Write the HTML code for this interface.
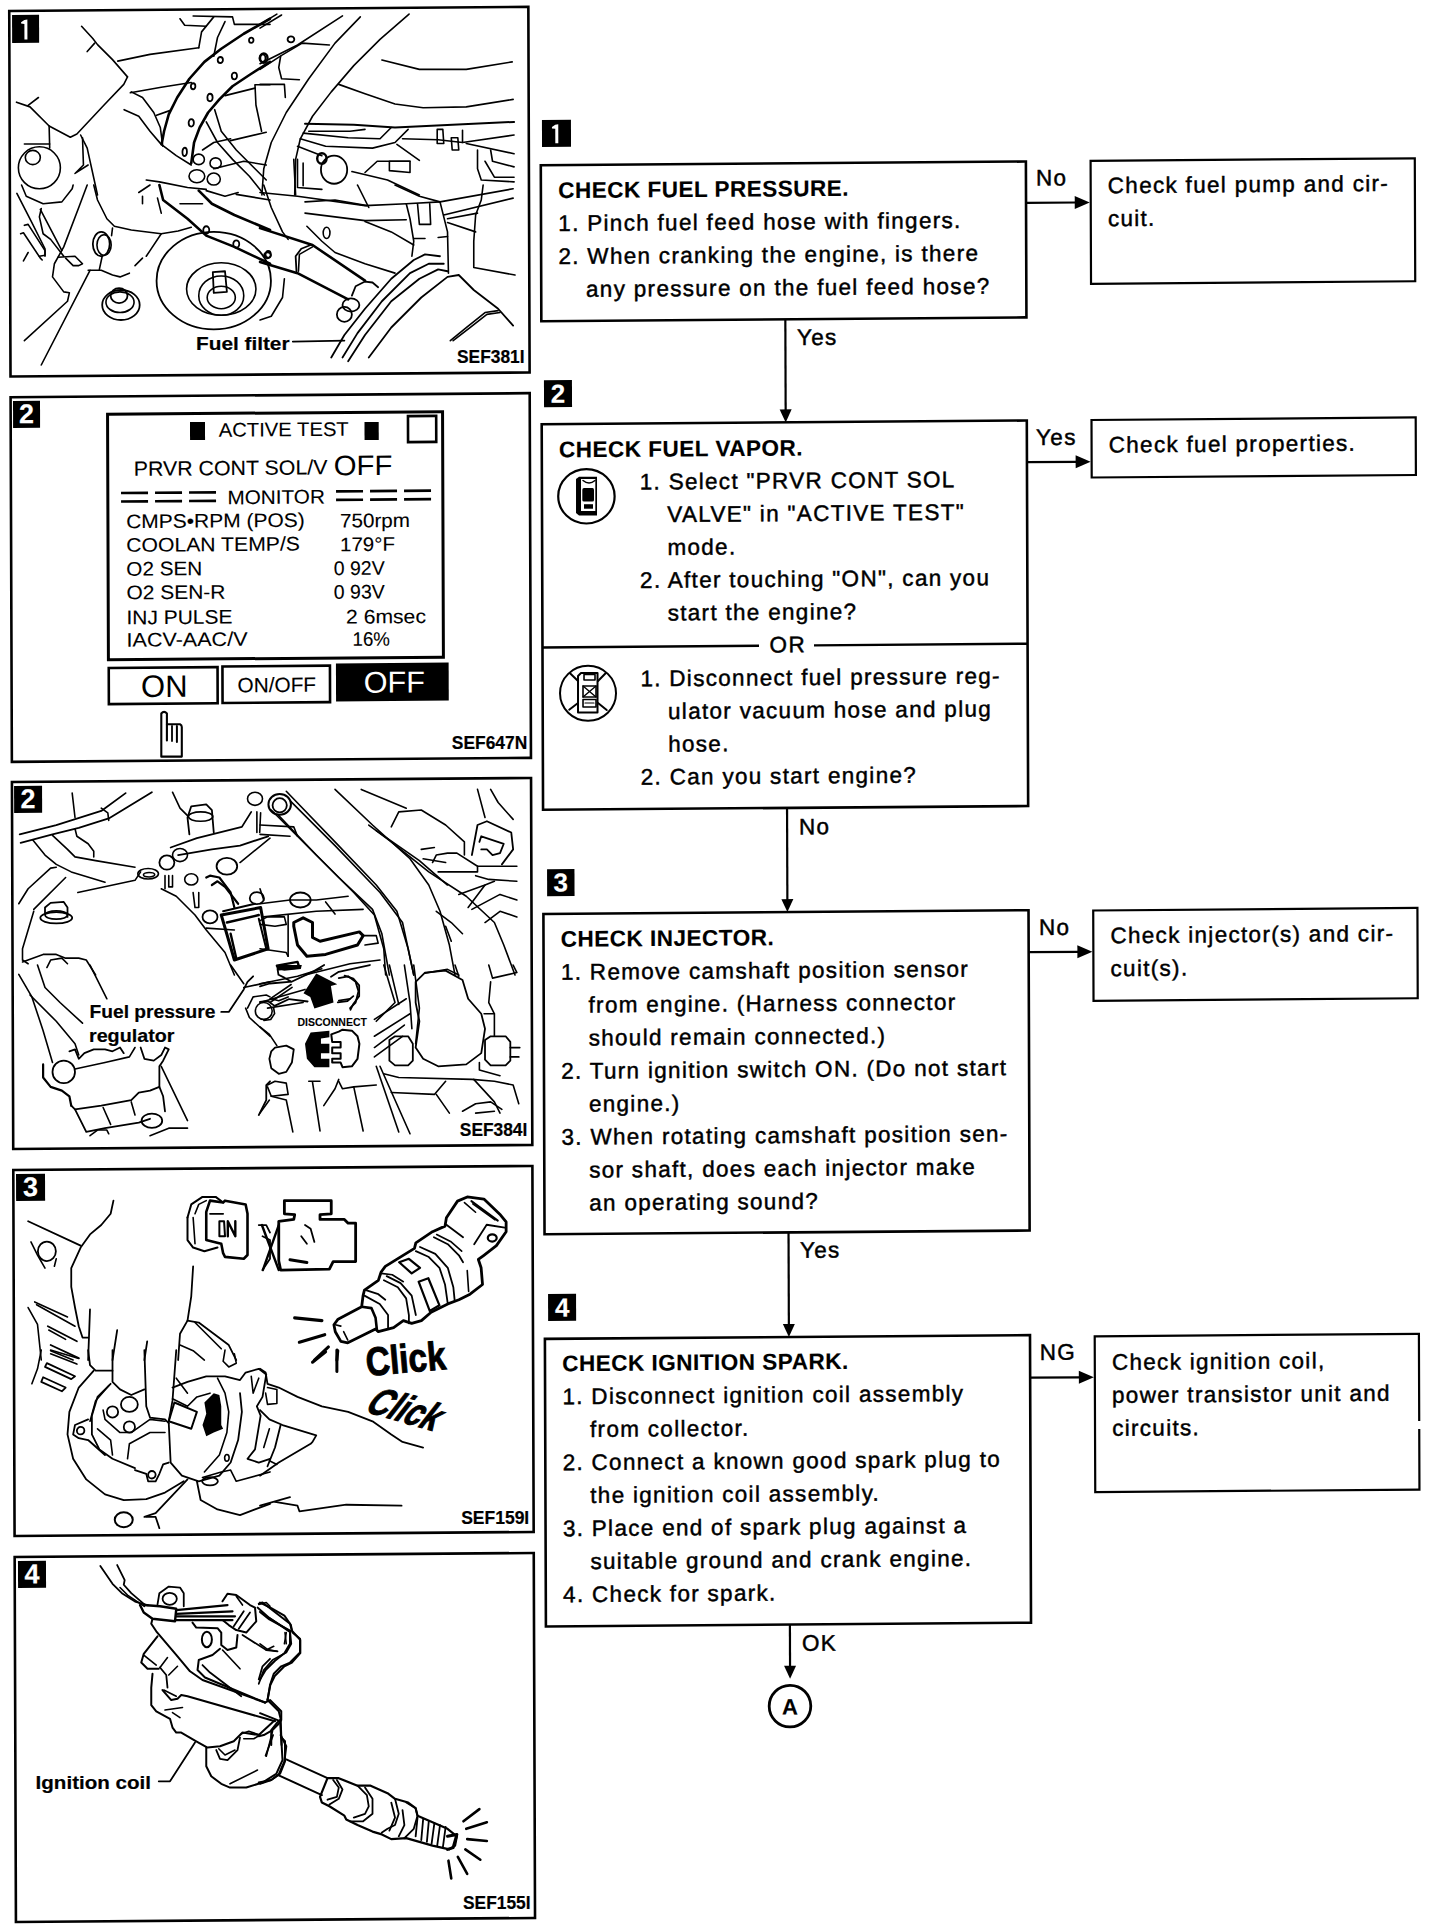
<!DOCTYPE html>
<html><head><meta charset="utf-8"><title>Fuel system check</title>
<style>
html,body{margin:0;padding:0;background:#fff;}
body{width:1440px;height:1930px;overflow:hidden;position:relative;}
#pg{position:absolute;left:0;top:0;width:1440px;height:1930px;transform-origin:0 0;transform:matrix(1,-0.0078,0.0035,1,0,0);}
svg{position:absolute;left:0;top:0;}
text{font-family:"Liberation Sans", sans-serif;stroke:none;}
</style></head><body>
<div id="pg">
<svg width="1440" height="1930" viewBox="0 0 1440 1930" stroke="#000" fill="none" stroke-linecap="butt">
<rect x="540.2" y="169.5" width="485.1" height="155.9" stroke-width="2.6" fill="none"/>
<rect x="1090.0" y="169.3" width="324.2" height="123.0" stroke-width="2.2" fill="none"/>
<line x1="1025.3" y1="210.9" x2="1076.0" y2="210.9" stroke-width="2.2"/>
<polygon points="1074.0,204.4 1089.0,210.9 1074.0,217.4" fill="#000" stroke="none"/>
<text x="1035.2" y="193.6" font-size="22.5" letter-spacing="1.3" font-weight="normal" fill="#000" style="stroke:#000;stroke-width:0.45px"  >No</text>
<rect x="541.5" y="124.2" width="29.0" height="27.0" stroke="none" fill="#000"/>
<path d="M554.8,129.2 L557.8,128.7 L557.8,147.7 L554.8,147.7 L554.8,133.2 L551.5,132.7 L551.5,131.4 Z" fill="#fff" stroke="none"/>
<text x="557.5" y="202.4" font-size="22.5" letter-spacing="0.5" font-weight="bold" fill="#000" style="stroke:#000;stroke-width:0.15px"  >CHECK FUEL PRESSURE.</text>
<text x="557.5" y="235.4" font-size="22.5" letter-spacing="1.3" font-weight="normal" fill="#000" style="stroke:#000;stroke-width:0.45px"  >1. Pinch fuel feed hose with fingers.</text>
<text x="557.5" y="268.4" font-size="22.5" letter-spacing="1.3" font-weight="normal" fill="#000" style="stroke:#000;stroke-width:0.45px"  >2. When cranking the engine, is there</text>
<text x="585.0" y="301.4" font-size="22.5" letter-spacing="1.3" font-weight="normal" fill="#000" style="stroke:#000;stroke-width:0.45px"  >any pressure on the fuel feed hose?</text>
<text x="1107.1" y="201.8" font-size="22.5" letter-spacing="1.3" font-weight="normal" fill="#000" style="stroke:#000;stroke-width:0.45px"  >Check fuel pump and cir-</text>
<text x="1107.1" y="234.8" font-size="22.5" letter-spacing="1.3" font-weight="normal" fill="#000" style="stroke:#000;stroke-width:0.45px"  >cuit.</text>
<line x1="784.2" y1="325.4" x2="784.2" y2="417.5" stroke-width="2.2"/>
<polygon points="778.2,415.5 784.2,428.5 790.2,415.5" fill="#000" stroke="none"/>
<text x="795.8" y="351.2" font-size="22.5" letter-spacing="1.3" font-weight="normal" fill="#000" style="stroke:#000;stroke-width:0.45px"  >Yes</text>
<rect x="542.6" y="384.5" width="28.0" height="27.0" stroke="none" fill="#000"/>
<text x="556.6" y="407.0" font-size="26" letter-spacing="0" font-weight="bold" fill="#fff" style="stroke:#fff;stroke-width:0.15px"  text-anchor="middle">2</text>
<rect x="540.2" y="428.5" width="485.1" height="385.5" stroke-width="2.6" fill="none"/>
<rect x="1090.0" y="428.5" width="324.2" height="57.5" stroke-width="2.2" fill="none"/>
<line x1="1025.3" y1="470.2" x2="1076.0" y2="470.2" stroke-width="2.2"/>
<polygon points="1074.0,463.7 1089.0,470.2 1074.0,476.7" fill="#000" stroke="none"/>
<text x="1034.5" y="453.1" font-size="22.5" letter-spacing="1.3" font-weight="normal" fill="#000" style="stroke:#000;stroke-width:0.45px"  >Yes</text>
<text x="1107.1" y="461.2" font-size="22.5" letter-spacing="1.3" font-weight="normal" fill="#000" style="stroke:#000;stroke-width:0.45px"  >Check fuel properties.</text>
<text x="557.5" y="461.7" font-size="22.5" letter-spacing="0.5" font-weight="bold" fill="#000" style="stroke:#000;stroke-width:0.15px"  >CHECK FUEL VAPOR.</text>
<text x="638.0" y="494.5" font-size="22.5" letter-spacing="1.3" font-weight="normal" fill="#000" style="stroke:#000;stroke-width:0.45px"  >1. Select "PRVR CONT SOL</text>
<text x="665.5" y="527.3" font-size="22.5" letter-spacing="1.3" font-weight="normal" fill="#000" style="stroke:#000;stroke-width:0.45px"  >VALVE" in "ACTIVE TEST"</text>
<text x="665.5" y="560.1" font-size="22.5" letter-spacing="1.3" font-weight="normal" fill="#000" style="stroke:#000;stroke-width:0.45px"  >mode.</text>
<text x="638.0" y="592.9" font-size="22.5" letter-spacing="1.3" font-weight="normal" fill="#000" style="stroke:#000;stroke-width:0.45px"  >2. After touching "ON", can you</text>
<text x="665.5" y="625.7" font-size="22.5" letter-spacing="1.3" font-weight="normal" fill="#000" style="stroke:#000;stroke-width:0.45px"  >start the engine?</text>
<line x1="540.2" y1="651.7" x2="756.7" y2="651.7" stroke-width="2.4"/>
<line x1="811.7" y1="651.7" x2="1025.3" y2="651.7" stroke-width="2.4"/>
<text x="767.3" y="658.4" font-size="22.5" letter-spacing="1.3" font-weight="normal" fill="#000" style="stroke:#000;stroke-width:0.45px"  >OR</text>
<text x="638.0" y="691.3" font-size="22.5" letter-spacing="1.3" font-weight="normal" fill="#000" style="stroke:#000;stroke-width:0.45px"  >1. Disconnect fuel pressure reg-</text>
<text x="665.5" y="724.1" font-size="22.5" letter-spacing="1.3" font-weight="normal" fill="#000" style="stroke:#000;stroke-width:0.45px"  >ulator vacuum hose and plug</text>
<text x="665.5" y="756.9" font-size="22.5" letter-spacing="1.3" font-weight="normal" fill="#000" style="stroke:#000;stroke-width:0.45px"  >hose.</text>
<text x="638.0" y="789.7" font-size="22.5" letter-spacing="1.3" font-weight="normal" fill="#000" style="stroke:#000;stroke-width:0.45px"  >2. Can you start engine?</text>
<line x1="784.2" y1="814.0" x2="784.2" y2="907.2" stroke-width="2.2"/>
<polygon points="778.2,905.2 784.2,918.2 790.2,905.2" fill="#000" stroke="none"/>
<text x="796.1" y="840.6" font-size="22.5" letter-spacing="1.3" font-weight="normal" fill="#000" style="stroke:#000;stroke-width:0.45px"  >No</text>
<rect x="544.0" y="873.4" width="27.4" height="27.0" stroke="none" fill="#000"/>
<text x="557.7" y="895.9" font-size="26" letter-spacing="0" font-weight="bold" fill="#fff" style="stroke:#fff;stroke-width:0.15px"  text-anchor="middle">3</text>
<rect x="540.2" y="918.2" width="485.1" height="320.3" stroke-width="2.6" fill="none"/>
<rect x="1090.0" y="919.0" width="324.2" height="90.3" stroke-width="2.2" fill="none"/>
<line x1="1025.3" y1="960.2" x2="1076.0" y2="960.2" stroke-width="2.2"/>
<polygon points="1074.0,953.7 1089.0,960.2 1074.0,966.7" fill="#000" stroke="none"/>
<text x="1035.7" y="943.1" font-size="22.5" letter-spacing="1.3" font-weight="normal" fill="#000" style="stroke:#000;stroke-width:0.45px"  >No</text>
<text x="1107.1" y="951.8" font-size="22.5" letter-spacing="1.3" font-weight="normal" fill="#000" style="stroke:#000;stroke-width:0.45px"  >Check injector(s) and cir-</text>
<text x="1107.1" y="984.8" font-size="22.5" letter-spacing="1.3" font-weight="normal" fill="#000" style="stroke:#000;stroke-width:0.45px"  >cuit(s).</text>
<text x="557.5" y="951.1" font-size="22.5" letter-spacing="0.5" font-weight="bold" fill="#000" style="stroke:#000;stroke-width:0.15px"  >CHECK INJECTOR.</text>
<text x="557.5" y="984.1" font-size="22.5" letter-spacing="1.3" font-weight="normal" fill="#000" style="stroke:#000;stroke-width:0.45px"  >1. Remove camshaft position sensor</text>
<text x="585.0" y="1017.1" font-size="22.5" letter-spacing="1.3" font-weight="normal" fill="#000" style="stroke:#000;stroke-width:0.45px"  >from engine. (Harness connector</text>
<text x="585.0" y="1050.1" font-size="22.5" letter-spacing="1.3" font-weight="normal" fill="#000" style="stroke:#000;stroke-width:0.45px"  >should remain connected.)</text>
<text x="557.5" y="1083.1" font-size="22.5" letter-spacing="1.3" font-weight="normal" fill="#000" style="stroke:#000;stroke-width:0.45px"  >2. Turn ignition switch ON. (Do not start</text>
<text x="585.0" y="1116.1" font-size="22.5" letter-spacing="1.3" font-weight="normal" fill="#000" style="stroke:#000;stroke-width:0.45px"  >engine.)</text>
<text x="557.5" y="1149.1" font-size="22.5" letter-spacing="1.3" font-weight="normal" fill="#000" style="stroke:#000;stroke-width:0.45px"  >3. When rotating camshaft position sen-</text>
<text x="585.0" y="1182.1" font-size="22.5" letter-spacing="1.3" font-weight="normal" fill="#000" style="stroke:#000;stroke-width:0.45px"  >sor shaft, does each injector make</text>
<text x="585.0" y="1215.1" font-size="22.5" letter-spacing="1.3" font-weight="normal" fill="#000" style="stroke:#000;stroke-width:0.45px"  >an operating sound?</text>
<line x1="784.2" y1="1238.5" x2="784.2" y2="1332.1" stroke-width="2.2"/>
<polygon points="778.2,1330.1 784.2,1343.1 790.2,1330.1" fill="#000" stroke="none"/>
<text x="795.6" y="1264.0" font-size="22.5" letter-spacing="1.3" font-weight="normal" fill="#000" style="stroke:#000;stroke-width:0.45px"  >Yes</text>
<rect x="543.5" y="1298.3" width="28.0" height="27.0" stroke="none" fill="#000"/>
<text x="557.5" y="1320.8" font-size="26" letter-spacing="0" font-weight="bold" fill="#fff" style="stroke:#fff;stroke-width:0.15px"  text-anchor="middle">4</text>
<rect x="540.2" y="1343.1" width="485.1" height="287.6" stroke-width="2.6" fill="none"/>
<rect x="1090.0" y="1344.8" width="324.2" height="155.8" stroke-width="2.2" fill="none"/>
<rect x="1411.2" y="1432.0" width="6.0" height="8.0" stroke="none" fill="#fff"/>
<line x1="1025.3" y1="1385.7" x2="1076.0" y2="1385.7" stroke-width="2.2"/>
<polygon points="1074.0,1379.2 1089.0,1385.7 1074.0,1392.2" fill="#000" stroke="none"/>
<text x="1035.0" y="1368.1" font-size="22.5" letter-spacing="1.3" font-weight="normal" fill="#000" style="stroke:#000;stroke-width:0.45px"  >NG</text>
<text x="1107.1" y="1378.5" font-size="22.5" letter-spacing="1.3" font-weight="normal" fill="#000" style="stroke:#000;stroke-width:0.45px"  >Check ignition coil,</text>
<text x="1107.1" y="1411.5" font-size="22.5" letter-spacing="1.3" font-weight="normal" fill="#000" style="stroke:#000;stroke-width:0.45px"  >power transistor unit and</text>
<text x="1107.1" y="1444.5" font-size="22.5" letter-spacing="1.3" font-weight="normal" fill="#000" style="stroke:#000;stroke-width:0.45px"  >circuits.</text>
<text x="557.5" y="1375.5" font-size="22.5" letter-spacing="0.5" font-weight="bold" fill="#000" style="stroke:#000;stroke-width:0.15px"  >CHECK IGNITION SPARK.</text>
<text x="557.5" y="1408.5" font-size="22.5" letter-spacing="1.3" font-weight="normal" fill="#000" style="stroke:#000;stroke-width:0.45px"  >1. Disconnect ignition coil assembly</text>
<text x="585.0" y="1441.5" font-size="22.5" letter-spacing="1.3" font-weight="normal" fill="#000" style="stroke:#000;stroke-width:0.45px"  >from collector.</text>
<text x="557.5" y="1474.5" font-size="22.5" letter-spacing="1.3" font-weight="normal" fill="#000" style="stroke:#000;stroke-width:0.45px"  >2. Connect a known good spark plug to</text>
<text x="585.0" y="1507.5" font-size="22.5" letter-spacing="1.3" font-weight="normal" fill="#000" style="stroke:#000;stroke-width:0.45px"  >the ignition coil assembly.</text>
<text x="557.5" y="1540.5" font-size="22.5" letter-spacing="1.3" font-weight="normal" fill="#000" style="stroke:#000;stroke-width:0.45px"  >3. Place end of spark plug against a</text>
<text x="585.0" y="1573.5" font-size="22.5" letter-spacing="1.3" font-weight="normal" fill="#000" style="stroke:#000;stroke-width:0.45px"  >suitable ground and crank engine.</text>
<text x="557.5" y="1606.5" font-size="22.5" letter-spacing="1.3" font-weight="normal" fill="#000" style="stroke:#000;stroke-width:0.45px"  >4. Check for spark.</text>
<line x1="784.2" y1="1630.7" x2="784.2" y2="1673.9" stroke-width="2.2"/>
<polygon points="778.2,1671.9 784.2,1684.9 790.2,1671.9" fill="#000" stroke="none"/>
<text x="796.2" y="1657.0" font-size="22.5" letter-spacing="1.3" font-weight="normal" fill="#000" style="stroke:#000;stroke-width:0.45px"  >OK</text>
<circle cx="784" cy="1712.2" r="20.8" stroke-width="2.8" fill="none"/>
<text x="784.0" y="1720.5" font-size="22" letter-spacing="0" font-weight="bold" fill="#000" style="stroke:#000;stroke-width:0.15px"  text-anchor="middle">A</text>
<rect x="9.2" y="11.0" width="519.1" height="365.6" stroke-width="2.6" fill="none"/>
<rect x="9.2" y="397.3" width="519.1" height="364.7" stroke-width="2.6" fill="none"/>
<rect x="9.2" y="782.1" width="519.1" height="367.0" stroke-width="2.6" fill="none"/>
<rect x="9.2" y="1170.1" width="519.1" height="366.0" stroke-width="2.6" fill="none"/>
<rect x="9.2" y="1557.1" width="519.1" height="365.0" stroke-width="2.6" fill="none"/>
<rect x="12.0" y="15.1" width="27.0" height="28.0" stroke="none" fill="#000"/>
<path d="M24.3,20.1 L27.3,19.6 L27.3,39.6 L24.3,39.6 L24.3,24.1 L21.0,23.6 L21.0,22.3 Z" fill="#fff" stroke="none"/>
<rect x="11.6" y="401.0" width="27.0" height="27.0" stroke="none" fill="#000"/>
<text x="25.1" y="423.5" font-size="27" letter-spacing="0" font-weight="bold" fill="#fff" style="stroke:#fff;stroke-width:0.15px"  text-anchor="middle">2</text>
<rect x="11.3" y="786.1" width="28.0" height="26.9" stroke="none" fill="#000"/>
<text x="25.3" y="808.5" font-size="27" letter-spacing="0" font-weight="bold" fill="#fff" style="stroke:#fff;stroke-width:0.15px"  text-anchor="middle">2</text>
<rect x="11.9" y="1174.0" width="29.0" height="27.0" stroke="none" fill="#000"/>
<text x="26.4" y="1196.5" font-size="27" letter-spacing="0" font-weight="bold" fill="#fff" style="stroke:#fff;stroke-width:0.15px"  text-anchor="middle">3</text>
<rect x="12.5" y="1561.0" width="28.0" height="27.0" stroke="none" fill="#000"/>
<text x="26.5" y="1583.5" font-size="27" letter-spacing="0" font-weight="bold" fill="#fff" style="stroke:#fff;stroke-width:0.15px"  text-anchor="middle">4</text>
<rect x="106.1" y="415.1" width="335.0" height="245.5" stroke-width="3.0" fill="none"/>
<rect x="188.5" y="423.5" width="15.0" height="18.0" stroke="none" fill="#000"/>
<rect x="363.0" y="424.9" width="14.2" height="18.0" stroke="none" fill="#000"/>
<rect x="406.5" y="419.3" width="28.2" height="26.0" stroke-width="2.6" fill="none"/>
<text x="217.2" y="438.4" font-size="19.5" letter-spacing="0" font-weight="normal" fill="#000" style="stroke:#000;stroke-width:0.1px" textLength="130" lengthAdjust="spacingAndGlyphs" >ACTIVE TEST</text>
<text x="132.1" y="476.8" font-size="20.5" letter-spacing="0" font-weight="normal" fill="#000" style="stroke:#000;stroke-width:0.1px" textLength="193.7" lengthAdjust="spacingAndGlyphs" >PRVR CONT SOL/V</text>
<text x="332.1" y="477.8" font-size="28" letter-spacing="0" font-weight="normal" fill="#000"  textLength="58.7" lengthAdjust="spacingAndGlyphs" >OFF</text>
<text x="225.7" y="505.9" font-size="19.5" letter-spacing="0" font-weight="normal" fill="#000" style="stroke:#000;stroke-width:0.1px" textLength="97.5" lengthAdjust="spacingAndGlyphs" >MONITOR</text>
<line x1="119.3" y1="494.0" x2="146.3" y2="494.0" stroke-width="2.6"/>
<line x1="119.3" y1="502.5" x2="146.3" y2="502.5" stroke-width="2.6"/>
<line x1="153.3" y1="494.0" x2="180.3" y2="494.0" stroke-width="2.6"/>
<line x1="153.3" y1="502.5" x2="180.3" y2="502.5" stroke-width="2.6"/>
<line x1="187.3" y1="494.0" x2="214.3" y2="494.0" stroke-width="2.6"/>
<line x1="187.3" y1="502.5" x2="214.3" y2="502.5" stroke-width="2.6"/>
<line x1="334.3" y1="494.0" x2="361.3" y2="494.0" stroke-width="2.6"/>
<line x1="334.3" y1="502.5" x2="361.3" y2="502.5" stroke-width="2.6"/>
<line x1="368.3" y1="494.0" x2="395.3" y2="494.0" stroke-width="2.6"/>
<line x1="368.3" y1="502.5" x2="395.3" y2="502.5" stroke-width="2.6"/>
<line x1="402.3" y1="494.0" x2="429.3" y2="494.0" stroke-width="2.6"/>
<line x1="402.3" y1="502.5" x2="429.3" y2="502.5" stroke-width="2.6"/>
<text x="124.3" y="529.1" font-size="19.5" letter-spacing="0" font-weight="normal" fill="#000" style="stroke:#000;stroke-width:0.1px" textLength="178.7" lengthAdjust="spacingAndGlyphs" >CMPS•RPM (POS)</text>
<text x="338.1" y="530.1" font-size="19.5" letter-spacing="0" font-weight="normal" fill="#000" style="stroke:#000;stroke-width:0.1px" textLength="70" lengthAdjust="spacingAndGlyphs" >750rpm</text>
<text x="124.3" y="552.8" font-size="19.5" letter-spacing="0" font-weight="normal" fill="#000" style="stroke:#000;stroke-width:0.1px" textLength="173.7" lengthAdjust="spacingAndGlyphs" >COOLAN TEMP/S</text>
<text x="338.1" y="553.8" font-size="19.5" letter-spacing="0" font-weight="normal" fill="#000" style="stroke:#000;stroke-width:0.1px" textLength="55" lengthAdjust="spacingAndGlyphs" >179°F</text>
<text x="124.3" y="576.6" font-size="19.5" letter-spacing="0" font-weight="normal" fill="#000" style="stroke:#000;stroke-width:0.1px" textLength="76" lengthAdjust="spacingAndGlyphs" >O2 SEN</text>
<text x="331.7" y="577.6" font-size="19.5" letter-spacing="0" font-weight="normal" fill="#000" style="stroke:#000;stroke-width:0.1px" textLength="51" lengthAdjust="spacingAndGlyphs" >0 92V</text>
<text x="124.3" y="600.3" font-size="19.5" letter-spacing="0" font-weight="normal" fill="#000" style="stroke:#000;stroke-width:0.1px" textLength="99" lengthAdjust="spacingAndGlyphs" >O2 SEN-R</text>
<text x="331.7" y="601.3" font-size="19.5" letter-spacing="0" font-weight="normal" fill="#000" style="stroke:#000;stroke-width:0.1px" textLength="51" lengthAdjust="spacingAndGlyphs" >0 93V</text>
<text x="124.3" y="625.3" font-size="19.5" letter-spacing="0" font-weight="normal" fill="#000" style="stroke:#000;stroke-width:0.1px" textLength="106" lengthAdjust="spacingAndGlyphs" >INJ PULSE</text>
<text x="343.8" y="626.3" font-size="19.5" letter-spacing="0" font-weight="normal" fill="#000" style="stroke:#000;stroke-width:0.1px" textLength="80" lengthAdjust="spacingAndGlyphs" >2 6msec</text>
<text x="124.3" y="647.6" font-size="19.5" letter-spacing="0" font-weight="normal" fill="#000" style="stroke:#000;stroke-width:0.1px" textLength="121" lengthAdjust="spacingAndGlyphs" >IACV-AAC/V</text>
<text x="350.2" y="648.6" font-size="19.5" letter-spacing="0" font-weight="normal" fill="#000" style="stroke:#000;stroke-width:0.1px" textLength="37.5" lengthAdjust="spacingAndGlyphs" >16%</text>
<rect x="106.4" y="668.8" width="108.8" height="36.2" stroke-width="2.6" fill="none"/>
<text x="138.6" y="698.2" font-size="31" letter-spacing="0" font-weight="normal" fill="#000"  textLength="46.5" lengthAdjust="spacingAndGlyphs" >ON</text>
<rect x="220.1" y="668.2" width="107.5" height="36.5" stroke-width="2.6" fill="none"/>
<text x="235.1" y="694.2" font-size="20.5" letter-spacing="0" font-weight="normal" fill="#000" style="stroke:#000;stroke-width:0.1px" textLength="78.5" lengthAdjust="spacingAndGlyphs" >ON/OFF</text>
<rect x="333.6" y="666.1" width="112.7" height="38.0" stroke="none" fill="#000"/>
<text x="361.3" y="695.6" font-size="30" letter-spacing="0" font-weight="normal" fill="#fff"  textLength="61.2" lengthAdjust="spacingAndGlyphs" >OFF</text>
<g transform="matrix(1,0.0078,-0.0035,1,0,0)" fill="none" stroke="#000"><g transform="translate(0,0) scale(0.187500)">
<path d="M435,140 L495,205 L520,238 L600,318 L680,410" stroke-width="1.6" vector-effect="non-scaling-stroke" stroke-linejoin="round" stroke-linecap="round"/>
<path d="M465,275 L505,230" stroke-width="1.6" vector-effect="non-scaling-stroke" stroke-linejoin="round" stroke-linecap="round"/>
<path d="M680,410 L660,450 L560,555 L410,715 L375,732 L262,672 L160,570 L88,545" stroke-width="1.6" vector-effect="non-scaling-stroke" stroke-linejoin="round" stroke-linecap="round"/>
<path d="M150,562 L205,520" stroke-width="1.6" vector-effect="non-scaling-stroke" stroke-linejoin="round" stroke-linecap="round"/>
<path d="M628,326 L800,290 L1060,255" stroke-width="1.6" vector-effect="non-scaling-stroke" stroke-linejoin="round" stroke-linecap="round"/>
<path d="M695,495 L860,465 L1020,440" stroke-width="1.6" vector-effect="non-scaling-stroke" stroke-linejoin="round" stroke-linecap="round"/>
<path d="M662,585 L740,620 L800,700 L860,770 L940,830 L1020,880" stroke-width="1.6" vector-effect="non-scaling-stroke" stroke-linejoin="round" stroke-linecap="round"/>
<path d="M700,490 L760,520 L820,600 L855,680 L868,780" stroke-width="1.6" vector-effect="non-scaling-stroke" stroke-linejoin="round" stroke-linecap="round"/>
<path d="M1440,100 L1300,180 L1180,260 L1090,330 L1010,420 L945,520 L900,610 L875,700 L862,770" stroke-width="2.6" vector-effect="non-scaling-stroke" stroke-linejoin="round" stroke-linecap="round"/>
<path d="M1440,330 L1330,400 L1240,460 L1170,530 L1110,600 L1065,680 L1035,760 L1020,870" stroke-width="2.6" vector-effect="non-scaling-stroke" stroke-linejoin="round" stroke-linecap="round"/>
<path d="M1100,650 L1160,760 L1240,850 L1330,940 L1410,1040" stroke-width="1.6" vector-effect="non-scaling-stroke" stroke-linejoin="round" stroke-linecap="round"/>
<path d="M1145,585 L1180,700 L1260,800 L1360,900 L1420,960" stroke-width="1.6" vector-effect="non-scaling-stroke" stroke-linejoin="round" stroke-linecap="round"/>
<path d="M1360,455 L1365,560 L1395,700" stroke-width="1.6" vector-effect="non-scaling-stroke" stroke-linejoin="round" stroke-linecap="round"/>
<path d="M1360,452 L1440,452" stroke-width="1.6" vector-effect="non-scaling-stroke" stroke-linejoin="round" stroke-linecap="round"/>
<path d="M1200,510 L1360,470" stroke-width="1.6" vector-effect="non-scaling-stroke" stroke-linejoin="round" stroke-linecap="round"/>
<path d="M1230,750 L1420,705" stroke-width="1.6" vector-effect="non-scaling-stroke" stroke-linejoin="round" stroke-linecap="round"/>
<path d="M1060,255 L1075,170 L1140,90" stroke-width="1.6" vector-effect="non-scaling-stroke" stroke-linejoin="round" stroke-linecap="round"/>
<path d="M1140,300 L1160,200 L1200,115" stroke-width="1.6" vector-effect="non-scaling-stroke" stroke-linejoin="round" stroke-linecap="round"/>
<path d="M960,100 L985,135 L1100,140" stroke-width="1.6" vector-effect="non-scaling-stroke" stroke-linejoin="round" stroke-linecap="round"/>
<path d="M1030,85 L1240,90 L1250,130 L1440,130" stroke-width="1.6" vector-effect="non-scaling-stroke" stroke-linejoin="round" stroke-linecap="round"/>
<path d="M835,615 L905,590" stroke-width="1.6" vector-effect="non-scaling-stroke" stroke-linejoin="round" stroke-linecap="round"/>
<ellipse cx="210" cy="895" rx="112" ry="112" stroke-width="1.6" vector-effect="non-scaling-stroke"/>
<ellipse cx="175" cy="840" rx="40" ry="38" stroke-width="1.6" vector-effect="non-scaling-stroke"/>
<path d="M130,768 L265,768" stroke-width="1.6" vector-effect="non-scaling-stroke" stroke-linejoin="round" stroke-linecap="round"/>
<path d="M262,672 L265,790" stroke-width="1.6" vector-effect="non-scaling-stroke" stroke-linejoin="round" stroke-linecap="round"/>
<path d="M430,720 L465,790 L520,1040" stroke-width="1.6" vector-effect="non-scaling-stroke" stroke-linejoin="round" stroke-linecap="round"/>
<path d="M440,735 L445,880 L400,925 L470,880" stroke-width="1.6" vector-effect="non-scaling-stroke" stroke-linejoin="round" stroke-linecap="round"/>
<ellipse cx="1050" cy="940" rx="42" ry="35" stroke-width="1.6" vector-effect="non-scaling-stroke"/>
<ellipse cx="1140" cy="955" rx="35" ry="32" stroke-width="1.6" vector-effect="non-scaling-stroke"/>
<ellipse cx="1060" cy="850" rx="30" ry="28" stroke-width="1.6" vector-effect="non-scaling-stroke"/>
<ellipse cx="1150" cy="870" rx="30" ry="28" stroke-width="1.6" vector-effect="non-scaling-stroke"/>
<ellipse cx="1020" cy="655" rx="14" ry="20" stroke-width="1.8" vector-effect="non-scaling-stroke"/>
<ellipse cx="1120" cy="520" rx="14" ry="20" stroke-width="1.8" vector-effect="non-scaling-stroke"/>
<ellipse cx="1250" cy="405" rx="14" ry="18" stroke-width="1.8" vector-effect="non-scaling-stroke"/>
<ellipse cx="1400" cy="310" rx="16" ry="20" stroke-width="1.8" vector-effect="non-scaling-stroke"/>
<ellipse cx="985" cy="810" rx="12" ry="22" stroke-width="1.8" vector-effect="non-scaling-stroke"/>
<ellipse cx="1030" cy="460" rx="12" ry="16" stroke-width="1.8" vector-effect="non-scaling-stroke"/>
<ellipse cx="1175" cy="320" rx="14" ry="16" stroke-width="1.8" vector-effect="non-scaling-stroke"/>
<ellipse cx="1340" cy="215" rx="12" ry="14" stroke-width="1.8" vector-effect="non-scaling-stroke"/>
<path d="M780,960 L850,970 L1000,1000 L1100,1010" stroke-width="1.6" vector-effect="non-scaling-stroke" stroke-linejoin="round" stroke-linecap="round"/>
<path d="M1080,800 L1140,760 L1230,740" stroke-width="1.6" vector-effect="non-scaling-stroke" stroke-linejoin="round" stroke-linecap="round"/>
<path d="M1140,900 L1300,860 L1420,880" stroke-width="1.6" vector-effect="non-scaling-stroke" stroke-linejoin="round" stroke-linecap="round"/>
</g>
<g transform="translate(260,0) scale(0.187500)">
<path d="M0,150 L115,80" stroke-width="1.6" vector-effect="non-scaling-stroke" stroke-linejoin="round" stroke-linecap="round"/>
<path d="M0,130 L90,75" stroke-width="1.6" vector-effect="non-scaling-stroke" stroke-linejoin="round" stroke-linecap="round"/>
<path d="M0,340 L200,240 L440,85" stroke-width="1.6" vector-effect="non-scaling-stroke" stroke-linejoin="round" stroke-linecap="round"/>
<path d="M0,370 L115,295 L225,230 L370,240" stroke-width="1.6" vector-effect="non-scaling-stroke" stroke-linejoin="round" stroke-linecap="round"/>
<path d="M110,300 L100,360 L115,420 L210,425" stroke-width="1.6" vector-effect="non-scaling-stroke" stroke-linejoin="round" stroke-linecap="round"/>
<path d="M0,450 L130,450 L135,520" stroke-width="1.6" vector-effect="non-scaling-stroke" stroke-linejoin="round" stroke-linecap="round"/>
<path d="M535,90 L400,230 L260,420 L140,600 L60,760 L20,900 L10,1040" stroke-width="1.6" vector-effect="non-scaling-stroke" stroke-linejoin="round" stroke-linecap="round"/>
<path d="M795,75 L640,210 L500,350 L380,490 L280,620 L215,740 L190,850 L185,1040" stroke-width="1.6" vector-effect="non-scaling-stroke" stroke-linejoin="round" stroke-linecap="round"/>
<path d="M650,320 L850,370 L1100,370 L1345,330" stroke-width="1.6" vector-effect="non-scaling-stroke" stroke-linejoin="round" stroke-linecap="round"/>
<path d="M420,450 L560,500 L720,555 L870,575 L1100,570 L1350,530" stroke-width="1.6" vector-effect="non-scaling-stroke" stroke-linejoin="round" stroke-linecap="round"/>
<path d="M240,660 L500,665 L720,680 L1355,650" stroke-width="2.0" vector-effect="non-scaling-stroke" stroke-linejoin="round" stroke-linecap="round"/>
<path d="M230,710 L470,735 L640,740 L700,680" stroke-width="1.6" vector-effect="non-scaling-stroke" stroke-linejoin="round" stroke-linecap="round"/>
<path d="M260,700 L480,700 L560,690" stroke-width="1.6" vector-effect="non-scaling-stroke" stroke-linejoin="round" stroke-linecap="round"/>
<path d="M215,740 L350,780 L600,790 L720,760 L790,690" stroke-width="1.6" vector-effect="non-scaling-stroke" stroke-linejoin="round" stroke-linecap="round"/>
<path d="M760,740 L950,745 L1080,760 L1355,720" stroke-width="1.6" vector-effect="non-scaling-stroke" stroke-linejoin="round" stroke-linecap="round"/>
<path d="M1100,765 L1355,820" stroke-width="1.6" vector-effect="non-scaling-stroke" stroke-linejoin="round" stroke-linecap="round"/>
<path d="M490,915 L680,960 L850,1040" stroke-width="1.6" vector-effect="non-scaling-stroke" stroke-linejoin="round" stroke-linecap="round"/>
<path d="M560,920 L625,860 L800,860" stroke-width="1.6" vector-effect="non-scaling-stroke" stroke-linejoin="round" stroke-linecap="round"/>
<path d="M690,860 L800,860 L800,920 L690,910 Z" stroke-width="1.6" vector-effect="non-scaling-stroke" stroke-linejoin="round" stroke-linecap="round"/>
<path d="M730,770 L850,855" stroke-width="1.6" vector-effect="non-scaling-stroke" stroke-linejoin="round" stroke-linecap="round"/>
<ellipse cx="395" cy="905" rx="70" ry="75" stroke-width="1.8" vector-effect="non-scaling-stroke"/>
<ellipse cx="330" cy="845" rx="25" ry="28" stroke-width="2.4" vector-effect="non-scaling-stroke"/>
<path d="M200,780 L330,830" stroke-width="1.6" vector-effect="non-scaling-stroke" stroke-linejoin="round" stroke-linecap="round"/>
<path d="M200,850 L200,1000 L330,1010" stroke-width="1.6" vector-effect="non-scaling-stroke" stroke-linejoin="round" stroke-linecap="round"/>
<path d="M230,870 L230,990" stroke-width="1.6" vector-effect="non-scaling-stroke" stroke-linejoin="round" stroke-linecap="round"/>
<path d="M1160,800 L1160,900 L1180,960 L1355,970" stroke-width="1.6" vector-effect="non-scaling-stroke" stroke-linejoin="round" stroke-linecap="round"/>
<path d="M1230,800 L1240,860 L1355,890" stroke-width="1.6" vector-effect="non-scaling-stroke" stroke-linejoin="round" stroke-linecap="round"/>
<path d="M945,690 L975,690 L980,765 L945,765 Z" stroke-width="1.6" vector-effect="non-scaling-stroke" stroke-linejoin="round" stroke-linecap="round"/>
<path d="M1020,735 L1055,735 L1060,800 L1025,800 Z" stroke-width="1.6" vector-effect="non-scaling-stroke" stroke-linejoin="round" stroke-linecap="round"/>
<path d="M1080,695 L1080,760" stroke-width="1.6" vector-effect="non-scaling-stroke" stroke-linejoin="round" stroke-linecap="round"/>
<path d="M180,850 L190,1040" stroke-width="1.6" vector-effect="non-scaling-stroke" stroke-linejoin="round" stroke-linecap="round"/>
<path d="M1200,860 L1250,945 L1355,945" stroke-width="1.6" vector-effect="non-scaling-stroke" stroke-linejoin="round" stroke-linecap="round"/>
<ellipse cx="165" cy="210" rx="18" ry="16" stroke-width="1.8" vector-effect="non-scaling-stroke"/>
<ellipse cx="20" cy="310" rx="20" ry="25" stroke-width="2.4" vector-effect="non-scaling-stroke"/>
</g>
<g transform="translate(0,185) scale(0.187500)">
<path d="M90,45 L170,200 L240,340 L240,380" stroke-width="1.6" vector-effect="non-scaling-stroke" stroke-linejoin="round" stroke-linecap="round"/>
<path d="M220,125 L210,170 L230,260 L270,290 L340,380" stroke-width="1.6" vector-effect="non-scaling-stroke" stroke-linejoin="round" stroke-linecap="round"/>
<path d="M215,130 L330,350" stroke-width="1.6" vector-effect="non-scaling-stroke" stroke-linejoin="round" stroke-linecap="round"/>
<path d="M130,215 L150,210 L240,350 L240,375 L210,380" stroke-width="1.6" vector-effect="non-scaling-stroke" stroke-linejoin="round" stroke-linecap="round"/>
<path d="M110,260 L125,255 L215,390 L225,400" stroke-width="1.6" vector-effect="non-scaling-stroke" stroke-linejoin="round" stroke-linecap="round"/>
<path d="M150,360 L125,405" stroke-width="1.6" vector-effect="non-scaling-stroke" stroke-linejoin="round" stroke-linecap="round"/>
<path d="M465,0 L420,120 L340,330 L290,420 L280,490 L340,570 L370,575 L360,620 L130,830" stroke-width="1.6" vector-effect="non-scaling-stroke" stroke-linejoin="round" stroke-linecap="round"/>
<path d="M500,0 L520,80 L570,180 L610,220 L700,240 L860,260 L950,245 L1020,225" stroke-width="1.6" vector-effect="non-scaling-stroke" stroke-linejoin="round" stroke-linecap="round"/>
<path d="M600,230 L595,270" stroke-width="1.6" vector-effect="non-scaling-stroke" stroke-linejoin="round" stroke-linecap="round"/>
<ellipse cx="540" cy="315" rx="45" ry="65" stroke-width="1.8" vector-effect="non-scaling-stroke"/>
<ellipse cx="555" cy="320" rx="38" ry="55" stroke-width="1.6" vector-effect="non-scaling-stroke"/>
<path d="M480,455 L220,960" stroke-width="1.6" vector-effect="non-scaling-stroke" stroke-linejoin="round" stroke-linecap="round"/>
<path d="M310,385 L400,380 L440,420 L420,430 L390,430 L350,390" stroke-width="1.6" vector-effect="non-scaling-stroke" stroke-linejoin="round" stroke-linecap="round"/>
<path d="M470,455 L540,455 L600,480 L640,490 L690,470" stroke-width="1.6" vector-effect="non-scaling-stroke" stroke-linejoin="round" stroke-linecap="round"/>
<path d="M545,380 L530,450" stroke-width="1.6" vector-effect="non-scaling-stroke" stroke-linejoin="round" stroke-linecap="round"/>
<path d="M860,260 L800,350 L780,380" stroke-width="1.6" vector-effect="non-scaling-stroke" stroke-linejoin="round" stroke-linecap="round"/>
<path d="M760,390 L720,430" stroke-width="1.6" vector-effect="non-scaling-stroke" stroke-linejoin="round" stroke-linecap="round"/>
<ellipse cx="645" cy="640" rx="100" ry="80" stroke-width="1.8" vector-effect="non-scaling-stroke"/>
<ellipse cx="640" cy="625" rx="75" ry="55" stroke-width="1.6" vector-effect="non-scaling-stroke"/>
<ellipse cx="635" cy="590" rx="45" ry="40" stroke-width="1.8" vector-effect="non-scaling-stroke"/>
<ellipse cx="1140" cy="510" rx="305" ry="260" stroke-width="1.8" vector-effect="non-scaling-stroke"/>
<ellipse cx="1180" cy="555" rx="185" ry="140" stroke-width="1.6" vector-effect="non-scaling-stroke"/>
<ellipse cx="1180" cy="590" rx="120" ry="105" stroke-width="1.6" vector-effect="non-scaling-stroke"/>
<ellipse cx="1180" cy="600" rx="75" ry="60" stroke-width="1.6" vector-effect="non-scaling-stroke"/>
<path d="M1135,465 L1200,460 L1210,570 L1140,575 Z" stroke-width="1.8" vector-effect="non-scaling-stroke" stroke-linejoin="round" stroke-linecap="round"/>
<path d="M850,0 L870,80 L1000,180 L1100,270 L1250,330 L1440,420" stroke-width="2.6" vector-effect="non-scaling-stroke" stroke-linejoin="round" stroke-linecap="round"/>
<path d="M1060,30 L1130,100 L1250,160 L1440,240" stroke-width="2.6" vector-effect="non-scaling-stroke" stroke-linejoin="round" stroke-linecap="round"/>
<ellipse cx="1100" cy="240" rx="16" ry="20" stroke-width="1.8" vector-effect="non-scaling-stroke"/>
<ellipse cx="1260" cy="315" rx="16" ry="20" stroke-width="1.8" vector-effect="non-scaling-stroke"/>
<ellipse cx="1430" cy="370" rx="14" ry="18" stroke-width="1.8" vector-effect="non-scaling-stroke"/>
<path d="M960,100 L1080,100" stroke-width="1.6" vector-effect="non-scaling-stroke" stroke-linejoin="round" stroke-linecap="round"/>
<path d="M740,40 L800,0" stroke-width="1.6" vector-effect="non-scaling-stroke" stroke-linejoin="round" stroke-linecap="round"/>
<path d="M760,60 L760,100" stroke-width="1.6" vector-effect="non-scaling-stroke" stroke-linejoin="round" stroke-linecap="round"/>
<path d="M840,70 L860,150" stroke-width="1.6" vector-effect="non-scaling-stroke" stroke-linejoin="round" stroke-linecap="round"/>
<path d="M1100,30 L1200,60 L1270,40" stroke-width="1.6" vector-effect="non-scaling-stroke" stroke-linejoin="round" stroke-linecap="round"/>
<path d="M1260,50 L1440,80" stroke-width="1.6" vector-effect="non-scaling-stroke" stroke-linejoin="round" stroke-linecap="round"/>
<path d="M115,0 L140,60 L230,100 L330,90 L385,20 L390,0" stroke-width="1.6" vector-effect="non-scaling-stroke" stroke-linejoin="round" stroke-linecap="round"/>
</g>
<g transform="translate(260,185) scale(0.187500)">
<path d="M0,230 L280,320 L560,510" stroke-width="2.6" vector-effect="non-scaling-stroke" stroke-linejoin="round" stroke-linecap="round"/>
<path d="M0,410 L200,470 L470,610" stroke-width="2.6" vector-effect="non-scaling-stroke" stroke-linejoin="round" stroke-linecap="round"/>
<path d="M270,320 L220,340 L190,380 L195,470" stroke-width="1.8" vector-effect="non-scaling-stroke" stroke-linejoin="round" stroke-linecap="round"/>
<path d="M280,330 L210,370 L205,460" stroke-width="1.6" vector-effect="non-scaling-stroke" stroke-linejoin="round" stroke-linecap="round"/>
<path d="M490,590 L510,540 L560,515 L600,520 L630,545" stroke-width="1.8" vector-effect="non-scaling-stroke" stroke-linejoin="round" stroke-linecap="round"/>
<ellipse cx="485" cy="640" rx="45" ry="35" stroke-width="1.8" vector-effect="non-scaling-stroke"/>
<ellipse cx="450" cy="690" rx="40" ry="40" stroke-width="1.8" vector-effect="non-scaling-stroke"/>
<path d="M380,920 L450,800 L560,660 L700,500 L820,400 L880,370 L960,380" stroke-width="1.8" vector-effect="non-scaling-stroke" stroke-linejoin="round" stroke-linecap="round"/>
<path d="M440,920 L520,790 L650,620 L800,470 L900,420 L980,420" stroke-width="1.8" vector-effect="non-scaling-stroke" stroke-linejoin="round" stroke-linecap="round"/>
<path d="M470,940 L560,800 L700,620 L850,500 L950,450 L1000,460" stroke-width="1.8" vector-effect="non-scaling-stroke" stroke-linejoin="round" stroke-linecap="round"/>
<path d="M580,920 L700,760 L860,600 L1000,490 L1060,480 L1140,560 L1270,660 L1350,750" stroke-width="1.8" vector-effect="non-scaling-stroke" stroke-linejoin="round" stroke-linecap="round"/>
<path d="M1015,830 L1100,760 L1200,680 L1270,670" stroke-width="1.6" vector-effect="non-scaling-stroke" stroke-linejoin="round" stroke-linecap="round"/>
<path d="M1030,830 L1120,760 L1210,690 L1280,680" stroke-width="1.6" vector-effect="non-scaling-stroke" stroke-linejoin="round" stroke-linecap="round"/>
<path d="M780,100 L800,180 L820,300 L810,380" stroke-width="1.6" vector-effect="non-scaling-stroke" stroke-linejoin="round" stroke-linecap="round"/>
<path d="M960,90 L1000,250 L1005,470" stroke-width="1.6" vector-effect="non-scaling-stroke" stroke-linejoin="round" stroke-linecap="round"/>
<path d="M780,100 L960,90" stroke-width="1.6" vector-effect="non-scaling-stroke" stroke-linejoin="round" stroke-linecap="round"/>
<path d="M840,100 L850,210 L910,210 L905,100" stroke-width="1.6" vector-effect="non-scaling-stroke" stroke-linejoin="round" stroke-linecap="round"/>
<path d="M820,285 L880,285" stroke-width="1.6" vector-effect="non-scaling-stroke" stroke-linejoin="round" stroke-linecap="round"/>
<path d="M950,280 L1000,275" stroke-width="1.6" vector-effect="non-scaling-stroke" stroke-linejoin="round" stroke-linecap="round"/>
<path d="M0,40 L200,60 L560,110 L780,100" stroke-width="1.6" vector-effect="non-scaling-stroke" stroke-linejoin="round" stroke-linecap="round"/>
<path d="M240,150 L560,190 L780,185" stroke-width="1.6" vector-effect="non-scaling-stroke" stroke-linejoin="round" stroke-linecap="round"/>
<path d="M240,90 L400,80 L570,110" stroke-width="1.6" vector-effect="non-scaling-stroke" stroke-linejoin="round" stroke-linecap="round"/>
<path d="M960,90 L1350,20" stroke-width="1.6" vector-effect="non-scaling-stroke" stroke-linejoin="round" stroke-linecap="round"/>
<path d="M980,160 L1350,70" stroke-width="1.6" vector-effect="non-scaling-stroke" stroke-linejoin="round" stroke-linecap="round"/>
<path d="M1190,0 L1180,80 L1150,160 L1140,300 L1140,440 L1360,480" stroke-width="1.6" vector-effect="non-scaling-stroke" stroke-linejoin="round" stroke-linecap="round"/>
<path d="M560,195 L700,250 L820,320" stroke-width="1.6" vector-effect="non-scaling-stroke" stroke-linejoin="round" stroke-linecap="round"/>
<path d="M250,220 L330,300 L400,360 L560,420 L720,470" stroke-width="1.6" vector-effect="non-scaling-stroke" stroke-linejoin="round" stroke-linecap="round"/>
<path d="M20,0 L60,120 L120,250 L150,290" stroke-width="1.6" vector-effect="non-scaling-stroke" stroke-linejoin="round" stroke-linecap="round"/>
<path d="M130,500 L120,600 L60,700 L0,720" stroke-width="1.6" vector-effect="non-scaling-stroke" stroke-linejoin="round" stroke-linecap="round"/>
<ellipse cx="355" cy="255" rx="18" ry="30" stroke-width="1.6" vector-effect="non-scaling-stroke"/>
<path d="M1000,200 L1150,250" stroke-width="1.6" vector-effect="non-scaling-stroke" stroke-linejoin="round" stroke-linecap="round"/>
<path d="M1000,180 L1160,150" stroke-width="1.6" vector-effect="non-scaling-stroke" stroke-linejoin="round" stroke-linecap="round"/>
<path d="M175,835 L450,830" stroke-width="1.8" vector-effect="non-scaling-stroke" stroke-linejoin="round" stroke-linecap="round"/>
<path d="M520,0 L580,120" stroke-width="1.6" vector-effect="non-scaling-stroke" stroke-linejoin="round" stroke-linecap="round"/>
<path d="M720,0 L850,60 L960,90" stroke-width="1.6" vector-effect="non-scaling-stroke" stroke-linejoin="round" stroke-linecap="round"/>
<ellipse cx="40" cy="375" rx="18" ry="16" stroke-width="1.8" vector-effect="non-scaling-stroke"/>
</g>
<g transform="translate(0,0) scale(1.000000)">
<path d="M161.3,756.6 L161.3,713.5 Q164,710.3 166.9,713.5 L166.9,724.3 L180,724.3 Q181.8,725 181.8,727 L181.8,756.6 Z" stroke-width="2.1" vector-effect="non-scaling-stroke" stroke-linejoin="round" stroke-linecap="round"/>
<path d="M166.9,724.3 L166.9,740.5" stroke-width="2.1" vector-effect="non-scaling-stroke" stroke-linejoin="round" stroke-linecap="round"/>
<path d="M172,726 L172,741" stroke-width="1.8" vector-effect="non-scaling-stroke" stroke-linejoin="round" stroke-linecap="round"/>
<path d="M176.9,726 L176.9,742" stroke-width="2.0" vector-effect="non-scaling-stroke" stroke-linejoin="round" stroke-linecap="round"/>
<ellipse cx="586.4" cy="496.3" rx="28.2" ry="27.2" stroke-width="2.2" vector-effect="non-scaling-stroke"/>
<path d="M576,479 L579,476.7 L597,476.7 L597,515.5 L579,515.5 L576,513 Z" fill="#000" stroke="none"/>
<path d="M581,479 L595.3,479 L595.3,511 L581,511 Z" fill="#fff" stroke="none"/>
<path d="M583,480.5 Q589,485.5 595,480.5" stroke-width="1.5" vector-effect="non-scaling-stroke" stroke-linejoin="round" stroke-linecap="round"/>
<path d="M584,488 L592.5,488 Q594,488 594,490 L594,500 Q594,501.5 592.5,501.5 L584,501.5 Q582.3,501.5 582.3,500 L582.3,490 Q582.3,488 584,488 Z" fill="#000" stroke="none"/>
<path d="M584,504.2 L593,504.2 L593,508.7 L584,508.7 Z" fill="#000" stroke="none"/>
<ellipse cx="588" cy="693.3" rx="28" ry="27.5" stroke-width="2.0" vector-effect="non-scaling-stroke"/>
<path d="M570,673.3 L578,681" stroke-width="2.0" vector-effect="non-scaling-stroke" stroke-linejoin="round" stroke-linecap="round"/>
<path d="M598,703 L606.7,710" stroke-width="2.0" vector-effect="non-scaling-stroke" stroke-linejoin="round" stroke-linecap="round"/>
<path d="M605.6,673.3 L598,681" stroke-width="2.0" vector-effect="non-scaling-stroke" stroke-linejoin="round" stroke-linecap="round"/>
<path d="M578,703 L569.2,709.7" stroke-width="2.0" vector-effect="non-scaling-stroke" stroke-linejoin="round" stroke-linecap="round"/>
<path d="M578,676 L581,673 L597.5,673 L597.5,712.5 L578,712.5 Z" stroke-width="2.0" vector-effect="non-scaling-stroke" stroke-linejoin="round" stroke-linecap="round"/>
<path d="M584,674.5 L595,674.5 L595,680 L584,680 Z" stroke-width="1.6" vector-effect="non-scaling-stroke" stroke-linejoin="round" stroke-linecap="round"/>
<path d="M583,686 L596,686 L596,697 L583,697 Z" stroke-width="1.6" vector-effect="non-scaling-stroke" stroke-linejoin="round" stroke-linecap="round"/>
<path d="M583,686 L596,697" stroke-width="1.4" vector-effect="non-scaling-stroke" stroke-linejoin="round" stroke-linecap="round"/>
<path d="M596,686 L583,697" stroke-width="1.4" vector-effect="non-scaling-stroke" stroke-linejoin="round" stroke-linecap="round"/>
<path d="M583,699.5 L596,699.5 L596,707 L583,707 Z" stroke-width="1.6" vector-effect="non-scaling-stroke" stroke-linejoin="round" stroke-linecap="round"/>
<path d="M585,703 L594,703" stroke-width="1.2" vector-effect="non-scaling-stroke" stroke-linejoin="round" stroke-linecap="round"/>
<text x="457.0" y="362.6" font-size="18.7" fill="#000" font-weight="bold" style="stroke:#000;stroke-width:0.2px" textLength="67.5" lengthAdjust="spacingAndGlyphs" >SEF381I</text>
<text x="451.8" y="748.7" font-size="18.7" fill="#000" font-weight="bold" style="stroke:#000;stroke-width:0.2px" textLength="75.5" lengthAdjust="spacingAndGlyphs" >SEF647N</text>
<text x="459.8" y="1136.4" font-size="18.7" fill="#000" font-weight="bold" style="stroke:#000;stroke-width:0.2px" textLength="67.5" lengthAdjust="spacingAndGlyphs" >SEF384I</text>
<text x="461.2" y="1524.3" font-size="18.7" fill="#000" font-weight="bold" style="stroke:#000;stroke-width:0.2px" textLength="68.0" lengthAdjust="spacingAndGlyphs" >SEF159I</text>
<text x="463.0" y="1909.3" font-size="18.7" fill="#000" font-weight="bold" style="stroke:#000;stroke-width:0.2px" textLength="67.5" lengthAdjust="spacingAndGlyphs" >SEF155I</text>
<text x="196.0" y="350.0" font-size="19" fill="#000" font-weight="bold" style="stroke:#000;stroke-width:0.2px" textLength="93.5" lengthAdjust="spacingAndGlyphs" >Fuel filter</text>
<text x="89.6" y="1018.4" font-size="19" fill="#000" font-weight="bold" style="stroke:#000;stroke-width:0.2px" textLength="125.7" lengthAdjust="spacingAndGlyphs" >Fuel pressure</text>
<text x="89.0" y="1041.5" font-size="19" fill="#000" font-weight="bold" style="stroke:#000;stroke-width:0.2px" textLength="85.4" lengthAdjust="spacingAndGlyphs" >regulator</text>
<text x="297.5" y="1026.0" font-size="11.5" fill="#000" font-weight="bold" style="stroke:#000;stroke-width:0.1px" textLength="69.4" lengthAdjust="spacingAndGlyphs" >DISCONNECT</text>
<text x="35.6" y="1789.4" font-size="19" fill="#000" font-weight="bold" style="stroke:#000;stroke-width:0.2px" textLength="115.4" lengthAdjust="spacingAndGlyphs" >Ignition coil</text>
<text x="367.0" y="1376.0" font-size="40" fill="#000" font-weight="bold" style="stroke:#000;stroke-width:1.0px" textLength="80" lengthAdjust="spacingAndGlyphs" transform="rotate(-5 367 1376)">Click</text>
<text x="363.0" y="1411.0" font-size="40" fill="#000" font-weight="bold" style="stroke:#000;stroke-width:1.0px" textLength="72" lengthAdjust="spacingAndGlyphs" transform="rotate(16 363 1411) translate(363 1411) skewX(-22) translate(-363 -1411)">Click</text>
</g>
<g transform="translate(0,780) scale(0.187500)">
<path d="M105,290 L300,240 L540,165 L670,70" stroke-width="1.8" vector-effect="non-scaling-stroke" stroke-linejoin="round" stroke-linecap="round"/>
<path d="M110,335 L280,290 L420,255 L580,205 L810,65" stroke-width="1.8" vector-effect="non-scaling-stroke" stroke-linejoin="round" stroke-linecap="round"/>
<path d="M540,150 L575,175 L580,215" stroke-width="1.6" vector-effect="non-scaling-stroke" stroke-linejoin="round" stroke-linecap="round"/>
<path d="M385,70 L400,200" stroke-width="1.6" vector-effect="non-scaling-stroke" stroke-linejoin="round" stroke-linecap="round"/>
<path d="M175,320 L240,400 L300,450 L380,490 L560,545" stroke-width="1.6" vector-effect="non-scaling-stroke" stroke-linejoin="round" stroke-linecap="round"/>
<path d="M280,295 L360,370 L400,410 L510,430 L720,465" stroke-width="1.6" vector-effect="non-scaling-stroke" stroke-linejoin="round" stroke-linecap="round"/>
<path d="M400,260 L410,300 L470,340 L500,380 L500,410" stroke-width="1.6" vector-effect="non-scaling-stroke" stroke-linejoin="round" stroke-linecap="round"/>
<path d="M415,600 L720,535 L750,490" stroke-width="1.6" vector-effect="non-scaling-stroke" stroke-linejoin="round" stroke-linecap="round"/>
<ellipse cx="790" cy="500" rx="55" ry="28" stroke-width="1.6" vector-effect="non-scaling-stroke"/>
<ellipse cx="795" cy="505" rx="30" ry="12" stroke-width="1.6" vector-effect="non-scaling-stroke"/>
<path d="M100,660 L150,580 L270,470 L300,465" stroke-width="1.6" vector-effect="non-scaling-stroke" stroke-linejoin="round" stroke-linecap="round"/>
<path d="M180,690 L350,520" stroke-width="1.6" vector-effect="non-scaling-stroke" stroke-linejoin="round" stroke-linecap="round"/>
<path d="M180,700 L150,800 L120,900 L120,960 L150,980" stroke-width="1.6" vector-effect="non-scaling-stroke" stroke-linejoin="round" stroke-linecap="round"/>
<path d="M240,710 L240,680 L270,655 L340,650 L360,680 L360,730" stroke-width="1.8" vector-effect="non-scaling-stroke" stroke-linejoin="round" stroke-linecap="round"/>
<ellipse cx="300" cy="735" rx="85" ry="30" stroke-width="1.8" vector-effect="non-scaling-stroke"/>
<ellipse cx="300" cy="720" rx="60" ry="22" stroke-width="1.6" vector-effect="non-scaling-stroke"/>
<path d="M1010,290 L1000,200 L1020,140 L1100,130 L1130,160 L1140,280" stroke-width="1.8" vector-effect="non-scaling-stroke" stroke-linejoin="round" stroke-linecap="round"/>
<ellipse cx="1070" cy="195" rx="65" ry="25" stroke-width="1.6" vector-effect="non-scaling-stroke"/>
<path d="M920,65 L960,150 L1000,190" stroke-width="1.6" vector-effect="non-scaling-stroke" stroke-linejoin="round" stroke-linecap="round"/>
<path d="M910,360 L1050,310 L1290,250 L1340,170" stroke-width="1.8" vector-effect="non-scaling-stroke" stroke-linejoin="round" stroke-linecap="round"/>
<path d="M950,400 L1130,370 L1280,350 L1430,300" stroke-width="1.8" vector-effect="non-scaling-stroke" stroke-linejoin="round" stroke-linecap="round"/>
<path d="M1370,170 L1370,280" stroke-width="1.6" vector-effect="non-scaling-stroke" stroke-linejoin="round" stroke-linecap="round"/>
<path d="M1390,175 L1385,280" stroke-width="1.6" vector-effect="non-scaling-stroke" stroke-linejoin="round" stroke-linecap="round"/>
<ellipse cx="1360" cy="100" rx="40" ry="35" stroke-width="1.6" vector-effect="non-scaling-stroke"/>
<ellipse cx="890" cy="440" rx="40" ry="38" stroke-width="1.8" vector-effect="non-scaling-stroke"/>
<ellipse cx="960" cy="400" rx="40" ry="35" stroke-width="1.6" vector-effect="non-scaling-stroke"/>
<ellipse cx="1210" cy="460" rx="55" ry="45" stroke-width="1.8" vector-effect="non-scaling-stroke"/>
<ellipse cx="1020" cy="530" rx="35" ry="30" stroke-width="1.6" vector-effect="non-scaling-stroke"/>
<ellipse cx="1370" cy="630" rx="38" ry="32" stroke-width="1.8" vector-effect="non-scaling-stroke"/>
<ellipse cx="1120" cy="730" rx="40" ry="35" stroke-width="1.8" vector-effect="non-scaling-stroke"/>
<path d="M1180,720 L1390,680 L1430,900 L1250,960 Z" stroke-width="3.0" vector-effect="non-scaling-stroke" stroke-linejoin="round" stroke-linecap="round"/>
<path d="M1210,760 L1380,720" stroke-width="2.4" vector-effect="non-scaling-stroke" stroke-linejoin="round" stroke-linecap="round"/>
<path d="M1230,820 L1260,950" stroke-width="2.4" vector-effect="non-scaling-stroke" stroke-linejoin="round" stroke-linecap="round"/>
<path d="M1380,740 L1420,900" stroke-width="2.0" vector-effect="non-scaling-stroke" stroke-linejoin="round" stroke-linecap="round"/>
<path d="M1190,700 L1360,660" stroke-width="2.0" vector-effect="non-scaling-stroke" stroke-linejoin="round" stroke-linecap="round"/>
<path d="M1100,520 L1120,510 L1170,520 L1230,600 L1250,680" stroke-width="2.2" vector-effect="non-scaling-stroke" stroke-linejoin="round" stroke-linecap="round"/>
<path d="M1130,560 L1160,540 L1200,570 L1270,660" stroke-width="2.2" vector-effect="non-scaling-stroke" stroke-linejoin="round" stroke-linecap="round"/>
<path d="M860,580 L940,620 L1040,720 L1100,800 L1200,920 L1250,1040" stroke-width="1.6" vector-effect="non-scaling-stroke" stroke-linejoin="round" stroke-linecap="round"/>
<path d="M880,510 L880,580" stroke-width="1.6" vector-effect="non-scaling-stroke" stroke-linejoin="round" stroke-linecap="round"/>
<path d="M900,510 L900,570 L920,570 L920,510" stroke-width="1.6" vector-effect="non-scaling-stroke" stroke-linejoin="round" stroke-linecap="round"/>
<path d="M1030,600 L1040,680 L1060,680 L1060,600" stroke-width="1.6" vector-effect="non-scaling-stroke" stroke-linejoin="round" stroke-linecap="round"/>
<path d="M1280,440 L1440,310" stroke-width="1.6" vector-effect="non-scaling-stroke" stroke-linejoin="round" stroke-linecap="round"/>
<path d="M120,970 L230,930 L300,930 L350,950 L420,950 L460,960 L510,1040" stroke-width="1.6" vector-effect="non-scaling-stroke" stroke-linejoin="round" stroke-linecap="round"/>
<path d="M250,1000 L270,960 L330,950 L360,980" stroke-width="1.6" vector-effect="non-scaling-stroke" stroke-linejoin="round" stroke-linecap="round"/>
<path d="M1100,790 L1250,800" stroke-width="1.6" vector-effect="non-scaling-stroke" stroke-linejoin="round" stroke-linecap="round"/>
</g>
<g transform="translate(260,780) scale(0.187500)">
<ellipse cx="105" cy="130" rx="60" ry="55" stroke-width="2.0" vector-effect="non-scaling-stroke"/>
<ellipse cx="105" cy="135" rx="38" ry="38" stroke-width="1.8" vector-effect="non-scaling-stroke"/>
<path d="M60,160 L200,300 L420,520 L600,690 L650,820 L690,1040" stroke-width="1.6" vector-effect="non-scaling-stroke" stroke-linejoin="round" stroke-linecap="round"/>
<path d="M100,190 L300,400 L500,600 L610,720 L660,900 L670,1040" stroke-width="1.6" vector-effect="non-scaling-stroke" stroke-linejoin="round" stroke-linecap="round"/>
<path d="M140,60 L400,330 L620,560 L730,700 L790,900 L820,1040" stroke-width="1.6" vector-effect="non-scaling-stroke" stroke-linejoin="round" stroke-linecap="round"/>
<path d="M160,110 L400,350 L640,600 L760,760 L820,1040" stroke-width="1.6" vector-effect="non-scaling-stroke" stroke-linejoin="round" stroke-linecap="round"/>
<path d="M400,50 L600,240 L800,420 L900,560 L960,700 L1010,880 L1040,1040" stroke-width="1.6" vector-effect="non-scaling-stroke" stroke-linejoin="round" stroke-linecap="round"/>
<path d="M540,50 L780,150" stroke-width="1.6" vector-effect="non-scaling-stroke" stroke-linejoin="round" stroke-linecap="round"/>
<path d="M580,240 L700,330 L900,490 L1100,620 L1250,760 L1300,880 L1360,1040" stroke-width="1.6" vector-effect="non-scaling-stroke" stroke-linejoin="round" stroke-linecap="round"/>
<path d="M620,270 L850,430 L1000,560" stroke-width="1.6" vector-effect="non-scaling-stroke" stroke-linejoin="round" stroke-linecap="round"/>
<path d="M700,250 L740,170 L860,160 L990,240 L1090,330 L1090,400" stroke-width="1.6" vector-effect="non-scaling-stroke" stroke-linejoin="round" stroke-linecap="round"/>
<path d="M860,370 L930,360" stroke-width="1.6" vector-effect="non-scaling-stroke" stroke-linejoin="round" stroke-linecap="round"/>
<path d="M920,440 L940,400 L1000,390 L1050,390 L1160,460 L1160,490 L950,490" stroke-width="1.6" vector-effect="non-scaling-stroke" stroke-linejoin="round" stroke-linecap="round"/>
<path d="M870,420 L990,440" stroke-width="1.6" vector-effect="non-scaling-stroke" stroke-linejoin="round" stroke-linecap="round"/>
<path d="M1130,400 L1160,240 L1210,220 L1340,280 L1350,370 L1290,450" stroke-width="1.8" vector-effect="non-scaling-stroke" stroke-linejoin="round" stroke-linecap="round"/>
<path d="M1170,330 L1180,300 L1300,340 L1280,390 L1240,400 L1210,370 L1180,370" stroke-width="1.8" vector-effect="non-scaling-stroke" stroke-linejoin="round" stroke-linecap="round"/>
<path d="M1160,50 L1200,200" stroke-width="1.6" vector-effect="non-scaling-stroke" stroke-linejoin="round" stroke-linecap="round"/>
<path d="M1230,50 L1270,120 L1350,210" stroke-width="1.6" vector-effect="non-scaling-stroke" stroke-linejoin="round" stroke-linecap="round"/>
<path d="M1160,460 L1370,460" stroke-width="1.6" vector-effect="non-scaling-stroke" stroke-linejoin="round" stroke-linecap="round"/>
<path d="M1150,510 L1220,530 L1370,540" stroke-width="1.6" vector-effect="non-scaling-stroke" stroke-linejoin="round" stroke-linecap="round"/>
<path d="M1060,610 L1200,560 L1250,540" stroke-width="1.6" vector-effect="non-scaling-stroke" stroke-linejoin="round" stroke-linecap="round"/>
<path d="M1110,680 L1200,560" stroke-width="1.6" vector-effect="non-scaling-stroke" stroke-linejoin="round" stroke-linecap="round"/>
<path d="M1130,690 L1280,610 L1370,640" stroke-width="1.6" vector-effect="non-scaling-stroke" stroke-linejoin="round" stroke-linecap="round"/>
<path d="M1200,760 L1280,700 L1370,730" stroke-width="1.6" vector-effect="non-scaling-stroke" stroke-linejoin="round" stroke-linecap="round"/>
<path d="M940,700 L1020,760 L1080,820" stroke-width="1.6" vector-effect="non-scaling-stroke" stroke-linejoin="round" stroke-linecap="round"/>
<path d="M990,780 L1020,860" stroke-width="1.6" vector-effect="non-scaling-stroke" stroke-linejoin="round" stroke-linecap="round"/>
<path d="M180,780 L200,880 L250,940 L350,930 L520,880 L550,830 L530,810 L320,860 L280,840 L280,760 L230,735 L180,760 Z" stroke-width="3.0" vector-effect="non-scaling-stroke" stroke-linejoin="round" stroke-linecap="round"/>
<path d="M0,660 L160,640 L300,640 L470,620" stroke-width="1.6" vector-effect="non-scaling-stroke" stroke-linejoin="round" stroke-linecap="round"/>
<ellipse cx="215" cy="640" rx="55" ry="40" stroke-width="1.8" vector-effect="non-scaling-stroke"/>
<path d="M20,730 L300,700 L550,690" stroke-width="1.6" vector-effect="non-scaling-stroke" stroke-linejoin="round" stroke-linecap="round"/>
<path d="M0,750 L40,730 L130,730 L140,770 L80,780 L0,770" stroke-width="1.6" vector-effect="non-scaling-stroke" stroke-linejoin="round" stroke-linecap="round"/>
<path d="M350,650 L400,715" stroke-width="1.6" vector-effect="non-scaling-stroke" stroke-linejoin="round" stroke-linecap="round"/>
<path d="M550,830 L620,830 L630,870 L560,880" stroke-width="1.6" vector-effect="non-scaling-stroke" stroke-linejoin="round" stroke-linecap="round"/>
<path d="M0,580 L20,640" stroke-width="1.6" vector-effect="non-scaling-stroke" stroke-linejoin="round" stroke-linecap="round"/>
<path d="M150,720 L150,940" stroke-width="1.6" vector-effect="non-scaling-stroke" stroke-linejoin="round" stroke-linecap="round"/>
<path d="M0,240 L180,250 L200,300" stroke-width="1.6" vector-effect="non-scaling-stroke" stroke-linejoin="round" stroke-linecap="round"/>
<path d="M0,290 L160,300" stroke-width="1.6" vector-effect="non-scaling-stroke" stroke-linejoin="round" stroke-linecap="round"/>
<path d="M0,900 L140,920 L150,940" stroke-width="1.6" vector-effect="non-scaling-stroke" stroke-linejoin="round" stroke-linecap="round"/>
<path d="M90,990 L200,970 L210,1000 L100,1010 Z" stroke-width="2.4" vector-effect="non-scaling-stroke" stroke-linejoin="round" stroke-linecap="round"/>
<path d="M240,1040 L480,980 L640,960" stroke-width="1.6" vector-effect="non-scaling-stroke" stroke-linejoin="round" stroke-linecap="round"/>
<path d="M880,1030 L1000,1010 L1060,1040" stroke-width="1.6" vector-effect="non-scaling-stroke" stroke-linejoin="round" stroke-linecap="round"/>
</g>
<g transform="translate(0,965) scale(0.187500)">
<path d="M100,50 L170,170 L230,350 L280,520" stroke-width="1.6" vector-effect="non-scaling-stroke" stroke-linejoin="round" stroke-linecap="round"/>
<path d="M160,160 L300,300 L400,420 L420,480" stroke-width="1.6" vector-effect="non-scaling-stroke" stroke-linejoin="round" stroke-linecap="round"/>
<path d="M200,0 L240,120 L320,200 L440,310" stroke-width="1.6" vector-effect="non-scaling-stroke" stroke-linejoin="round" stroke-linecap="round"/>
<path d="M480,0 L520,80 L570,180" stroke-width="1.6" vector-effect="non-scaling-stroke" stroke-linejoin="round" stroke-linecap="round"/>
<path d="M230,530 L230,600 L270,650 L330,670 L370,700 L380,750" stroke-width="2.2" vector-effect="non-scaling-stroke" stroke-linejoin="round" stroke-linecap="round"/>
<ellipse cx="340" cy="570" rx="60" ry="60" stroke-width="1.8" vector-effect="non-scaling-stroke"/>
<path d="M400,555 L560,520 L690,490 L720,440" stroke-width="1.6" vector-effect="non-scaling-stroke" stroke-linejoin="round" stroke-linecap="round"/>
<path d="M370,460 L400,450 L420,500 L450,470 L500,450 L560,450 L600,460 L640,440 L660,470" stroke-width="1.8" vector-effect="non-scaling-stroke" stroke-linejoin="round" stroke-linecap="round"/>
<path d="M750,440 L770,500 L820,510 L860,480 L880,440 L900,450 L870,510 L850,540 L850,650" stroke-width="1.8" vector-effect="non-scaling-stroke" stroke-linejoin="round" stroke-linecap="round"/>
<path d="M380,750 L400,770 L460,890 L560,870 L740,840 L800,820" stroke-width="1.8" vector-effect="non-scaling-stroke" stroke-linejoin="round" stroke-linecap="round"/>
<path d="M400,770 L540,750 L700,720 L740,680 L800,670 L850,650 L870,700 L880,780" stroke-width="1.8" vector-effect="non-scaling-stroke" stroke-linejoin="round" stroke-linecap="round"/>
<path d="M550,760 L590,850" stroke-width="1.6" vector-effect="non-scaling-stroke" stroke-linejoin="round" stroke-linecap="round"/>
<path d="M700,730 L720,800" stroke-width="1.6" vector-effect="non-scaling-stroke" stroke-linejoin="round" stroke-linecap="round"/>
<ellipse cx="810" cy="830" rx="55" ry="38" stroke-width="1.8" vector-effect="non-scaling-stroke"/>
<path d="M480,910 L520,880 L570,880 L580,900" stroke-width="1.6" vector-effect="non-scaling-stroke" stroke-linejoin="round" stroke-linecap="round"/>
<path d="M800,910 L900,870 L1000,870" stroke-width="1.6" vector-effect="non-scaling-stroke" stroke-linejoin="round" stroke-linecap="round"/>
<path d="M860,540 L1000,830" stroke-width="1.6" vector-effect="non-scaling-stroke" stroke-linejoin="round" stroke-linecap="round"/>
<path d="M1180,250 L1220,250 L1300,130 L1320,90 L1350,60" stroke-width="1.8" vector-effect="non-scaling-stroke" stroke-linejoin="round" stroke-linecap="round"/>
<path d="M1230,0 L1300,100" stroke-width="1.6" vector-effect="non-scaling-stroke" stroke-linejoin="round" stroke-linecap="round"/>
<path d="M1300,120 L1440,90" stroke-width="1.6" vector-effect="non-scaling-stroke" stroke-linejoin="round" stroke-linecap="round"/>
<path d="M1320,230 L1350,170 L1420,160 L1440,170" stroke-width="1.6" vector-effect="non-scaling-stroke" stroke-linejoin="round" stroke-linecap="round"/>
<path d="M1310,230 L1330,280 L1440,380" stroke-width="1.6" vector-effect="non-scaling-stroke" stroke-linejoin="round" stroke-linecap="round"/>
<path d="M1380,800 L1420,720 L1420,640 L1440,620" stroke-width="1.8" vector-effect="non-scaling-stroke" stroke-linejoin="round" stroke-linecap="round"/>
</g>
<g transform="translate(260,965) scale(0.187500)">
<path d="M232,150 L300,45 L412,102 L378,112 L392,200 L290,232 L268,170 Z" fill="#000" stroke="none"/>
<path d="M240,420 L270,360 L370,350 L370,385 L325,392 L325,420 L370,420 L370,470 L325,470 L325,500 L370,500 L370,545 L290,545 L250,500 Z" fill="#000" stroke="none"/>
<path d="M380,370 L420,355 L440,345 L490,350 L520,380 L530,420 L520,500 L490,540 L440,545 L430,520 L385,520 L385,500 L430,500 L430,470 L385,470 L385,440 L430,440 L430,410 L385,410 Z" stroke-width="2.0" vector-effect="non-scaling-stroke" stroke-linejoin="round" stroke-linecap="round"/>
<path d="M420,70 L470,60 L510,90 L525,140 L510,200 L480,230" stroke-width="1.8" vector-effect="non-scaling-stroke" stroke-linejoin="round" stroke-linecap="round"/>
<path d="M420,190 L480,180" stroke-width="1.6" vector-effect="non-scaling-stroke" stroke-linejoin="round" stroke-linecap="round"/>
<path d="M0,100 L100,80 L200,60 L330,20" stroke-width="1.6" vector-effect="non-scaling-stroke" stroke-linejoin="round" stroke-linecap="round"/>
<path d="M0,200 L100,170 L240,130" stroke-width="1.6" vector-effect="non-scaling-stroke" stroke-linejoin="round" stroke-linecap="round"/>
<path d="M60,180 L100,190 L150,170" stroke-width="1.6" vector-effect="non-scaling-stroke" stroke-linejoin="round" stroke-linecap="round"/>
<path d="M40,230 L230,200" stroke-width="1.6" vector-effect="non-scaling-stroke" stroke-linejoin="round" stroke-linecap="round"/>
<ellipse cx="20" cy="245" rx="45" ry="45" stroke-width="1.6" vector-effect="non-scaling-stroke"/>
<path d="M0,330 L50,370 L90,430" stroke-width="1.6" vector-effect="non-scaling-stroke" stroke-linejoin="round" stroke-linecap="round"/>
<path d="M60,460 L80,440 L140,430 L180,450 L170,520 L140,570 L100,580 L60,550 L50,500 Z" stroke-width="1.8" vector-effect="non-scaling-stroke" stroke-linejoin="round" stroke-linecap="round"/>
<path d="M40,640 L80,620 L140,630 L150,690 L60,700 L40,650" stroke-width="1.6" vector-effect="non-scaling-stroke" stroke-linejoin="round" stroke-linecap="round"/>
<path d="M0,790 L50,720" stroke-width="1.6" vector-effect="non-scaling-stroke" stroke-linejoin="round" stroke-linecap="round"/>
<path d="M60,700 L140,720 L175,890" stroke-width="1.6" vector-effect="non-scaling-stroke" stroke-linejoin="round" stroke-linecap="round"/>
<path d="M260,620 L320,620" stroke-width="1.6" vector-effect="non-scaling-stroke" stroke-linejoin="round" stroke-linecap="round"/>
<path d="M280,625 L320,885" stroke-width="1.6" vector-effect="non-scaling-stroke" stroke-linejoin="round" stroke-linecap="round"/>
<path d="M340,750 L400,660 L420,610" stroke-width="1.6" vector-effect="non-scaling-stroke" stroke-linejoin="round" stroke-linecap="round"/>
<path d="M420,620 L440,660 L500,650 L620,640" stroke-width="1.6" vector-effect="non-scaling-stroke" stroke-linejoin="round" stroke-linecap="round"/>
<path d="M500,650 L550,885" stroke-width="1.6" vector-effect="non-scaling-stroke" stroke-linejoin="round" stroke-linecap="round"/>
<path d="M610,290 L780,180" stroke-width="1.6" vector-effect="non-scaling-stroke" stroke-linejoin="round" stroke-linecap="round"/>
<path d="M610,380 L800,260" stroke-width="1.6" vector-effect="non-scaling-stroke" stroke-linejoin="round" stroke-linecap="round"/>
<path d="M610,440 L770,320" stroke-width="1.6" vector-effect="non-scaling-stroke" stroke-linejoin="round" stroke-linecap="round"/>
<path d="M610,490 L760,380" stroke-width="1.6" vector-effect="non-scaling-stroke" stroke-linejoin="round" stroke-linecap="round"/>
<path d="M620,540 L740,890" stroke-width="1.6" vector-effect="non-scaling-stroke" stroke-linejoin="round" stroke-linecap="round"/>
<path d="M640,540 L800,900" stroke-width="1.6" vector-effect="non-scaling-stroke" stroke-linejoin="round" stroke-linecap="round"/>
<path d="M660,0 L720,200 L620,300" stroke-width="1.6" vector-effect="non-scaling-stroke" stroke-linejoin="round" stroke-linecap="round"/>
<path d="M690,0 L740,210" stroke-width="1.6" vector-effect="non-scaling-stroke" stroke-linejoin="round" stroke-linecap="round"/>
<path d="M770,0 L800,200 L810,340" stroke-width="1.6" vector-effect="non-scaling-stroke" stroke-linejoin="round" stroke-linecap="round"/>
<path d="M820,0 L850,230 L830,420" stroke-width="1.6" vector-effect="non-scaling-stroke" stroke-linejoin="round" stroke-linecap="round"/>
<path d="M830,90 L880,40 L990,30 L1080,80 L1110,180 L1180,260 L1200,340 L1180,470 L1100,530 L950,540 L870,500 L830,440 L850,300 L830,200 Z" stroke-width="1.8" vector-effect="non-scaling-stroke" stroke-linejoin="round" stroke-linecap="round"/>
<path d="M690,400 L720,380 L790,380 L815,420 L815,510 L790,535 L720,535 L690,510 Z" stroke-width="1.8" vector-effect="non-scaling-stroke" stroke-linejoin="round" stroke-linecap="round"/>
<path d="M1200,400 L1230,380 L1310,380 L1335,410 L1335,510 L1310,535 L1230,535 L1200,505 Z" stroke-width="1.8" vector-effect="non-scaling-stroke" stroke-linejoin="round" stroke-linecap="round"/>
<path d="M1335,440 L1385,440" stroke-width="1.8" vector-effect="non-scaling-stroke" stroke-linejoin="round" stroke-linecap="round"/>
<path d="M1335,490 L1380,490" stroke-width="1.8" vector-effect="non-scaling-stroke" stroke-linejoin="round" stroke-linecap="round"/>
<path d="M1040,0 L1060,60" stroke-width="1.6" vector-effect="non-scaling-stroke" stroke-linejoin="round" stroke-linecap="round"/>
<path d="M1220,0 L1240,70 L1370,40 L1350,0" stroke-width="1.6" vector-effect="non-scaling-stroke" stroke-linejoin="round" stroke-linecap="round"/>
<path d="M1230,90 L1220,200 L1250,260 L1250,380" stroke-width="1.6" vector-effect="non-scaling-stroke" stroke-linejoin="round" stroke-linecap="round"/>
<path d="M1195,260 L1250,260" stroke-width="1.6" vector-effect="non-scaling-stroke" stroke-linejoin="round" stroke-linecap="round"/>
<path d="M660,580 L740,600 L1130,610 L1250,620 L1350,640 L1380,740" stroke-width="1.6" vector-effect="non-scaling-stroke" stroke-linejoin="round" stroke-linecap="round"/>
<path d="M1170,520 L1170,560 L1280,590" stroke-width="1.6" vector-effect="non-scaling-stroke" stroke-linejoin="round" stroke-linecap="round"/>
<path d="M700,680 L930,690 L990,620" stroke-width="1.6" vector-effect="non-scaling-stroke" stroke-linejoin="round" stroke-linecap="round"/>
<path d="M940,690 L1010,790" stroke-width="1.6" vector-effect="non-scaling-stroke" stroke-linejoin="round" stroke-linecap="round"/>
<path d="M1140,610 L1250,730 L1280,790" stroke-width="1.6" vector-effect="non-scaling-stroke" stroke-linejoin="round" stroke-linecap="round"/>
<path d="M1080,780 L1150,740 L1230,730 L1290,770" stroke-width="1.6" vector-effect="non-scaling-stroke" stroke-linejoin="round" stroke-linecap="round"/>
<path d="M1150,790 L1250,780" stroke-width="1.6" vector-effect="non-scaling-stroke" stroke-linejoin="round" stroke-linecap="round"/>
</g>
<g transform="translate(260,965) scale(0.097222)">
<path d="M170,0 L430,0 L420,40 L250,60 L180,40 Z" fill="#000" stroke="none"/>
<path d="M0,220 L100,190 L330,170 L560,60 L660,0" stroke-width="1.8" vector-effect="non-scaling-stroke" stroke-linejoin="round" stroke-linecap="round"/>
<path d="M0,380 L80,370 L150,420 L300,350 L490,375" stroke-width="1.8" vector-effect="non-scaling-stroke" stroke-linejoin="round" stroke-linecap="round"/>
<path d="M100,350 L320,200" stroke-width="1.6" vector-effect="non-scaling-stroke" stroke-linejoin="round" stroke-linecap="round"/>
<path d="M110,380 L330,230" stroke-width="1.6" vector-effect="non-scaling-stroke" stroke-linejoin="round" stroke-linecap="round"/>
<path d="M180,40 L190,100 L250,130 L320,170" stroke-width="1.8" vector-effect="non-scaling-stroke" stroke-linejoin="round" stroke-linecap="round"/>
<path d="M730,120 L810,70 L1130,0" stroke-width="1.8" vector-effect="non-scaling-stroke" stroke-linejoin="round" stroke-linecap="round"/>
<path d="M870,110 L960,140 L1020,210 L1020,320 L960,400 L930,460" stroke-width="1.8" vector-effect="non-scaling-stroke" stroke-linejoin="round" stroke-linecap="round"/>
<path d="M800,385 L900,370 L960,320" stroke-width="1.8" vector-effect="non-scaling-stroke" stroke-linejoin="round" stroke-linecap="round"/>
<path d="M40,570 L110,560 L150,500 L140,440" stroke-width="1.6" vector-effect="non-scaling-stroke" stroke-linejoin="round" stroke-linecap="round"/>
</g>
<g transform="translate(0,1165) scale(0.187500)">
<path d="M605,190 L590,260 L540,320 L480,370 L430,440 L380,550 L380,650 L400,760 L420,860 L440,920 L470,920" stroke-width="1.8" vector-effect="non-scaling-stroke" stroke-linejoin="round" stroke-linecap="round"/>
<path d="M150,300 L430,430" stroke-width="1.8" vector-effect="non-scaling-stroke" stroke-linejoin="round" stroke-linecap="round"/>
<path d="M480,770 L470,1040" stroke-width="1.8" vector-effect="non-scaling-stroke" stroke-linejoin="round" stroke-linecap="round"/>
<path d="M625,880 L600,1040" stroke-width="1.8" vector-effect="non-scaling-stroke" stroke-linejoin="round" stroke-linecap="round"/>
<path d="M785,940 L770,1040" stroke-width="1.8" vector-effect="non-scaling-stroke" stroke-linejoin="round" stroke-linecap="round"/>
<path d="M1030,540 L1020,700 L1000,830 L960,900 L950,1040" stroke-width="1.8" vector-effect="non-scaling-stroke" stroke-linejoin="round" stroke-linecap="round"/>
<path d="M1000,830 L1060,840 L1140,900 L1220,960 L1260,1040" stroke-width="1.8" vector-effect="non-scaling-stroke" stroke-linejoin="round" stroke-linecap="round"/>
<path d="M1040,840 L1180,980" stroke-width="1.6" vector-effect="non-scaling-stroke" stroke-linejoin="round" stroke-linecap="round"/>
<path d="M960,960 L1030,990 L1090,1040" stroke-width="1.6" vector-effect="non-scaling-stroke" stroke-linejoin="round" stroke-linecap="round"/>
<ellipse cx="250" cy="460" rx="48" ry="52" stroke-width="1.8" vector-effect="non-scaling-stroke"/>
<path d="M165,410 L200,480 L240,550" stroke-width="1.6" vector-effect="non-scaling-stroke" stroke-linejoin="round" stroke-linecap="round"/>
<path d="M300,500 L290,540" stroke-width="1.6" vector-effect="non-scaling-stroke" stroke-linejoin="round" stroke-linecap="round"/>
<path d="M185,730 L360,810" stroke-width="1.6" vector-effect="non-scaling-stroke" stroke-linejoin="round" stroke-linecap="round"/>
<path d="M195,745 L400,860" stroke-width="1.6" vector-effect="non-scaling-stroke" stroke-linejoin="round" stroke-linecap="round"/>
<path d="M150,760 L200,850 L220,1040" stroke-width="1.6" vector-effect="non-scaling-stroke" stroke-linejoin="round" stroke-linecap="round"/>
<path d="M255,860 L410,940" stroke-width="1.8" vector-effect="non-scaling-stroke" stroke-linejoin="round" stroke-linecap="round"/>
<path d="M260,880 L350,930" stroke-width="1.6" vector-effect="non-scaling-stroke" stroke-linejoin="round" stroke-linecap="round"/>
<path d="M270,960 L420,1030" stroke-width="1.8" vector-effect="non-scaling-stroke" stroke-linejoin="round" stroke-linecap="round"/>
<path d="M270,990 L390,1040" stroke-width="1.6" vector-effect="non-scaling-stroke" stroke-linejoin="round" stroke-linecap="round"/>
<path d="M1000,280 L1020,210 L1080,170 L1150,170 L1190,200" stroke-width="2.0" vector-effect="non-scaling-stroke" stroke-linejoin="round" stroke-linecap="round"/>
<path d="M1000,280 L1000,400 L1030,440 L1090,460 L1160,440" stroke-width="2.0" vector-effect="non-scaling-stroke" stroke-linejoin="round" stroke-linecap="round"/>
<path d="M1040,260 L1060,210 L1100,190" stroke-width="1.6" vector-effect="non-scaling-stroke" stroke-linejoin="round" stroke-linecap="round"/>
<path d="M1030,280 L1040,420" stroke-width="1.6" vector-effect="non-scaling-stroke" stroke-linejoin="round" stroke-linecap="round"/>
<path d="M1100,250 L1120,190 L1190,200 L1200,190 L1310,210 L1320,260 L1320,480 L1300,500 L1200,490 L1190,470 L1180,420 L1100,400 Z" stroke-width="2.6" vector-effect="non-scaling-stroke" stroke-linejoin="round" stroke-linecap="round"/>
<path d="M1120,260 L1190,260" stroke-width="1.8" vector-effect="non-scaling-stroke" stroke-linejoin="round" stroke-linecap="round"/>
<path d="M1170,380 L1170,300 L1195,300 L1200,380 Z" stroke-width="2.0" vector-effect="non-scaling-stroke" stroke-linejoin="round" stroke-linecap="round"/>
<path d="M1215,380 L1215,300 L1255,380 L1255,300" stroke-width="2.4" vector-effect="non-scaling-stroke" stroke-linejoin="round" stroke-linecap="round"/>
<path d="M1380,320 L1420,320 L1440,360" stroke-width="1.8" vector-effect="non-scaling-stroke" stroke-linejoin="round" stroke-linecap="round"/>
<path d="M1400,380 L1440,400 L1440,500 L1400,560" stroke-width="1.8" vector-effect="non-scaling-stroke" stroke-linejoin="round" stroke-linecap="round"/>
</g>
<g transform="translate(260,1165) scale(0.187500)">
<path d="M130,190 L380,190 L380,260 L320,265 L320,290 L450,290 L470,310 L510,310 L510,515 L390,515 L370,555 L110,560 L100,510 L100,300 L180,290 L185,265 L130,260 Z" stroke-width="2.8" vector-effect="non-scaling-stroke" stroke-linejoin="round" stroke-linecap="round"/>
<path d="M10,320 L100,560" stroke-width="2.4" vector-effect="non-scaling-stroke" stroke-linejoin="round" stroke-linecap="round"/>
<path d="M15,560 L100,320" stroke-width="2.4" vector-effect="non-scaling-stroke" stroke-linejoin="round" stroke-linecap="round"/>
<path d="M240,320 L270,340 L290,410" stroke-width="1.8" vector-effect="non-scaling-stroke" stroke-linejoin="round" stroke-linecap="round"/>
<path d="M220,380 L250,420" stroke-width="1.8" vector-effect="non-scaling-stroke" stroke-linejoin="round" stroke-linecap="round"/>
<path d="M160,505 L250,520" stroke-width="3.0" vector-effect="non-scaling-stroke" stroke-linejoin="round" stroke-linecap="round"/>
<path d="M185,815 L330,830" stroke-width="3.2" vector-effect="non-scaling-stroke" stroke-linejoin="round" stroke-linecap="round"/>
<path d="M210,945 L345,905" stroke-width="3.2" vector-effect="non-scaling-stroke" stroke-linejoin="round" stroke-linecap="round"/>
<path d="M290,1040 L365,970" stroke-width="3.0" vector-effect="non-scaling-stroke" stroke-linejoin="round" stroke-linecap="round"/>
<path d="M415,990 L410,1040" stroke-width="3.0" vector-effect="non-scaling-stroke" stroke-linejoin="round" stroke-linecap="round"/>
</g>
<g transform="translate(0,1350) scale(0.187500)">
<path d="M500,110 L420,200 L370,330 L360,450 L390,580 L460,690 L560,770 L660,800 L780,795 L880,760 L980,700" stroke-width="1.8" vector-effect="non-scaling-stroke" stroke-linejoin="round" stroke-linecap="round"/>
<path d="M590,180 L520,250 L490,350 L490,450 L530,530 L600,580 L720,630" stroke-width="1.8" vector-effect="non-scaling-stroke" stroke-linejoin="round" stroke-linecap="round"/>
<path d="M580,190 L510,270 L480,380" stroke-width="1.6" vector-effect="non-scaling-stroke" stroke-linejoin="round" stroke-linecap="round"/>
<path d="M470,370 L400,400 L390,450 L420,470 L470,480 L560,560" stroke-width="1.8" vector-effect="non-scaling-stroke" stroke-linejoin="round" stroke-linecap="round"/>
<ellipse cx="430" cy="430" rx="20" ry="20" stroke-width="1.8" vector-effect="non-scaling-stroke"/>
<path d="M720,640 L780,660 L790,700 L830,700 L850,660 L870,610 L900,600" stroke-width="1.8" vector-effect="non-scaling-stroke" stroke-linejoin="round" stroke-linecap="round"/>
<ellipse cx="810" cy="665" rx="20" ry="20" stroke-width="1.8" vector-effect="non-scaling-stroke"/>
<path d="M600,0 L600,170 L640,210 L700,240 L770,210" stroke-width="1.8" vector-effect="non-scaling-stroke" stroke-linejoin="round" stroke-linecap="round"/>
<path d="M770,0 L780,300 L800,360 L880,370 L900,390" stroke-width="1.8" vector-effect="non-scaling-stroke" stroke-linejoin="round" stroke-linecap="round"/>
<path d="M470,0 L480,80 L510,110 L600,110" stroke-width="1.8" vector-effect="non-scaling-stroke" stroke-linejoin="round" stroke-linecap="round"/>
<path d="M940,0 L920,270 L900,380" stroke-width="1.8" vector-effect="non-scaling-stroke" stroke-linejoin="round" stroke-linecap="round"/>
<ellipse cx="600" cy="330" rx="30" ry="30" stroke-width="1.8" vector-effect="non-scaling-stroke"/>
<ellipse cx="690" cy="290" rx="45" ry="40" stroke-width="1.8" vector-effect="non-scaling-stroke"/>
<ellipse cx="690" cy="410" rx="30" ry="30" stroke-width="1.8" vector-effect="non-scaling-stroke"/>
<path d="M550,320 L560,370 L640,440 L700,440 L800,370 L880,380" stroke-width="1.6" vector-effect="non-scaling-stroke" stroke-linejoin="round" stroke-linecap="round"/>
<path d="M900,380 L1020,420 L1050,330 L930,280 Z" stroke-width="2.0" vector-effect="non-scaling-stroke" stroke-linejoin="round" stroke-linecap="round"/>
<path d="M1090,280 L1140,230 L1170,240 L1180,300 L1180,400 L1190,420 L1140,440 L1100,460 L1080,400 L1100,340 Z" fill="#000" stroke="none"/>
<path d="M920,200 L1000,170 L1100,140 L1200,140 L1280,160 L1310,120 L1380,100 L1420,130 L1400,250 L1370,300 L1390,350 L1360,530 L1320,580 L1380,600 L1440,580" stroke-width="1.8" vector-effect="non-scaling-stroke" stroke-linejoin="round" stroke-linecap="round"/>
<path d="M900,390 L910,600 L970,670 L1060,700 L1170,670 L1230,600 L1270,480 L1290,330 L1280,230" stroke-width="1.8" vector-effect="non-scaling-stroke" stroke-linejoin="round" stroke-linecap="round"/>
<path d="M1160,150 L1200,230 L1220,330 L1210,440 L1170,560 L1090,650" stroke-width="1.6" vector-effect="non-scaling-stroke" stroke-linejoin="round" stroke-linecap="round"/>
<path d="M1050,700 L1070,800 L1160,850 L1280,880 L1440,820" stroke-width="1.8" vector-effect="non-scaling-stroke" stroke-linejoin="round" stroke-linecap="round"/>
<path d="M1080,680 L1180,650 L1230,640 L1260,700 L1440,650" stroke-width="1.6" vector-effect="non-scaling-stroke" stroke-linejoin="round" stroke-linecap="round"/>
<ellipse cx="1120" cy="700" rx="42" ry="22" stroke-width="1.8" vector-effect="non-scaling-stroke"/>
<path d="M1340,140 L1350,230 L1380,150" stroke-width="1.6" vector-effect="non-scaling-stroke" stroke-linejoin="round" stroke-linecap="round"/>
<path d="M940,150 L1000,230" stroke-width="1.6" vector-effect="non-scaling-stroke" stroke-linejoin="round" stroke-linecap="round"/>
<path d="M920,260 L1000,300 L1050,250 L1120,230" stroke-width="1.6" vector-effect="non-scaling-stroke" stroke-linejoin="round" stroke-linecap="round"/>
<path d="M1000,690 L830,870 L770,890" stroke-width="1.8" vector-effect="non-scaling-stroke" stroke-linejoin="round" stroke-linecap="round"/>
<path d="M780,890 L830,890 L850,950" stroke-width="1.8" vector-effect="non-scaling-stroke" stroke-linejoin="round" stroke-linecap="round"/>
<ellipse cx="660" cy="905" rx="48" ry="40" stroke-width="2.0" vector-effect="non-scaling-stroke"/>
<path d="M520,420 L590,480 L600,560" stroke-width="1.6" vector-effect="non-scaling-stroke" stroke-linejoin="round" stroke-linecap="round"/>
<path d="M680,580 L690,500 L800,440 L880,440" stroke-width="1.6" vector-effect="non-scaling-stroke" stroke-linejoin="round" stroke-linecap="round"/>
<path d="M250,70 L400,140 L380,155 L240,90 Z" stroke-width="1.8" vector-effect="non-scaling-stroke" stroke-linejoin="round" stroke-linecap="round"/>
<path d="M230,145 L350,200 L330,220 L220,170 Z" stroke-width="1.8" vector-effect="non-scaling-stroke" stroke-linejoin="round" stroke-linecap="round"/>
<path d="M270,0 L420,45" stroke-width="1.6" vector-effect="non-scaling-stroke" stroke-linejoin="round" stroke-linecap="round"/>
<path d="M270,20 L410,75" stroke-width="1.6" vector-effect="non-scaling-stroke" stroke-linejoin="round" stroke-linecap="round"/>
<path d="M220,0 L200,100 L170,180" stroke-width="1.6" vector-effect="non-scaling-stroke" stroke-linejoin="round" stroke-linecap="round"/>
<ellipse cx="1210" cy="575" rx="12" ry="18" stroke-width="1.6" vector-effect="non-scaling-stroke"/>
<path d="M1200,0 L1190,60 L1220,90 L1260,70 L1250,20" stroke-width="1.6" vector-effect="non-scaling-stroke" stroke-linejoin="round" stroke-linecap="round"/>
</g>
<g transform="translate(260,1350) scale(0.187500)">
<path d="M0,100 L30,120 L40,180 L100,200 L200,250 L330,300 L470,330 L600,380 L700,450 L760,490 L870,520" stroke-width="1.8" vector-effect="non-scaling-stroke" stroke-linejoin="round" stroke-linecap="round"/>
<path d="M40,200 L90,210 L90,285 L40,290 L30,230" stroke-width="1.6" vector-effect="non-scaling-stroke" stroke-linejoin="round" stroke-linecap="round"/>
<path d="M0,320 L50,370 L120,400 L300,455 L280,490 L270,500 L100,600 L0,670" stroke-width="1.8" vector-effect="non-scaling-stroke" stroke-linejoin="round" stroke-linecap="round"/>
<path d="M110,400 L80,520 L40,620" stroke-width="1.8" vector-effect="non-scaling-stroke" stroke-linejoin="round" stroke-linecap="round"/>
<path d="M50,420 L20,520" stroke-width="1.6" vector-effect="non-scaling-stroke" stroke-linejoin="round" stroke-linecap="round"/>
<path d="M50,590 L90,610" stroke-width="1.6" vector-effect="non-scaling-stroke" stroke-linejoin="round" stroke-linecap="round"/>
<path d="M0,830 L160,785" stroke-width="1.8" vector-effect="non-scaling-stroke" stroke-linejoin="round" stroke-linecap="round"/>
<path d="M80,810 L200,830 L210,860 L460,825 L755,830" stroke-width="1.8" vector-effect="non-scaling-stroke" stroke-linejoin="round" stroke-linecap="round"/>
<path d="M280,65 L350,10" stroke-width="3.0" vector-effect="non-scaling-stroke" stroke-linejoin="round" stroke-linecap="round"/>
<path d="M410,0 L410,115" stroke-width="3.0" vector-effect="non-scaling-stroke" stroke-linejoin="round" stroke-linecap="round"/>
</g>
<g transform="translate(320,1190) scale(0.138889)">
<path d="M100,970 L130,930 L300,840 L310,760 L320,720 L420,650 L440,590 L470,550 L680,420 L690,380 L810,300 L900,260 L910,200 L990,80 L1060,50 L1180,65 L1300,180 L1340,230 L1340,300 L1270,400 L1180,470 L1140,500 L1160,560 L1170,680 L1080,750 L1000,790 L920,820 L800,880 L730,940 L660,960 L600,940 L530,990 L420,1020 L400,1000 L200,1100 L150,1090 L110,1020 Z" stroke-width="2.8" vector-effect="non-scaling-stroke" stroke-linejoin="round" stroke-linecap="round"/>
<path d="M300,840 L370,850 L400,920 L410,1010" stroke-width="2.6" vector-effect="non-scaling-stroke" stroke-linejoin="round" stroke-linecap="round"/>
<path d="M110,970 L150,980" stroke-width="1.6" vector-effect="non-scaling-stroke" stroke-linejoin="round" stroke-linecap="round"/>
<path d="M170,1020 L200,1080" stroke-width="1.6" vector-effect="non-scaling-stroke" stroke-linejoin="round" stroke-linecap="round"/>
<path d="M330,720 L420,750 L470,790" stroke-width="1.8" vector-effect="non-scaling-stroke" stroke-linejoin="round" stroke-linecap="round"/>
<path d="M320,760 L430,820 L490,900 L490,990" stroke-width="1.8" vector-effect="non-scaling-stroke" stroke-linejoin="round" stroke-linecap="round"/>
<path d="M460,650 L560,700 L620,780 L640,900 L640,960" stroke-width="1.8" vector-effect="non-scaling-stroke" stroke-linejoin="round" stroke-linecap="round"/>
<path d="M480,620 L580,670 L660,760 L690,900" stroke-width="1.8" vector-effect="non-scaling-stroke" stroke-linejoin="round" stroke-linecap="round"/>
<path d="M440,600 L520,610 L600,660" stroke-width="1.6" vector-effect="non-scaling-stroke" stroke-linejoin="round" stroke-linecap="round"/>
<path d="M690,440 L780,480 L860,560 L900,680 L920,820" stroke-width="1.8" vector-effect="non-scaling-stroke" stroke-linejoin="round" stroke-linecap="round"/>
<path d="M720,410 L830,460 L920,560 L960,700 L970,800" stroke-width="1.8" vector-effect="non-scaling-stroke" stroke-linejoin="round" stroke-linecap="round"/>
<path d="M820,340 L920,390 L1000,470 L1030,520" stroke-width="1.8" vector-effect="non-scaling-stroke" stroke-linejoin="round" stroke-linecap="round"/>
<path d="M840,320 L940,370 L1020,440" stroke-width="1.6" vector-effect="non-scaling-stroke" stroke-linejoin="round" stroke-linecap="round"/>
<path d="M1060,580 L1070,730" stroke-width="1.6" vector-effect="non-scaling-stroke" stroke-linejoin="round" stroke-linecap="round"/>
<path d="M570,520 L640,495 L720,560 L660,600 Z" stroke-width="2.2" vector-effect="non-scaling-stroke" stroke-linejoin="round" stroke-linecap="round"/>
<path d="M710,660 L780,635 L860,830 L790,870 Z" stroke-width="2.2" vector-effect="non-scaling-stroke" stroke-linejoin="round" stroke-linecap="round"/>
<path d="M910,250 L1030,340" stroke-width="1.8" vector-effect="non-scaling-stroke" stroke-linejoin="round" stroke-linecap="round"/>
<path d="M1110,390 L1200,250 L1330,270" stroke-width="1.8" vector-effect="non-scaling-stroke" stroke-linejoin="round" stroke-linecap="round"/>
<path d="M1040,90 L1120,160" stroke-width="1.6" vector-effect="non-scaling-stroke" stroke-linejoin="round" stroke-linecap="round"/>
<path d="M1090,80 L1280,220" stroke-width="2.0" vector-effect="non-scaling-stroke" stroke-linejoin="round" stroke-linecap="round"/>
<path d="M1100,100 L1260,215" stroke-width="1.6" vector-effect="non-scaling-stroke" stroke-linejoin="round" stroke-linecap="round"/>
<ellipse cx="1240" cy="345" rx="32" ry="26" stroke-width="2.2" vector-effect="non-scaling-stroke"/>
</g>
<g transform="translate(0,1550) scale(0.187500)">
<path d="M535,85 L600,180 L650,230 L720,275 L790,295" stroke-width="1.8" vector-effect="non-scaling-stroke" stroke-linejoin="round" stroke-linecap="round"/>
<path d="M625,80 L665,160 L660,185 L700,230 L770,290" stroke-width="1.8" vector-effect="non-scaling-stroke" stroke-linejoin="round" stroke-linecap="round"/>
<path d="M640,200 L680,240 L770,300" stroke-width="1.6" vector-effect="non-scaling-stroke" stroke-linejoin="round" stroke-linecap="round"/>
<path d="M840,290 L850,230 L900,195 L960,200 L980,230 L980,300" stroke-width="1.8" vector-effect="non-scaling-stroke" stroke-linejoin="round" stroke-linecap="round"/>
<ellipse cx="905" cy="260" rx="38" ry="32" stroke-width="1.8" vector-effect="non-scaling-stroke"/>
<path d="M1380,290 L1420,280 L1440,300" stroke-width="1.6" vector-effect="non-scaling-stroke" stroke-linejoin="round" stroke-linecap="round"/>
<path d="M1380,690 L1400,620 L1440,580" stroke-width="1.8" vector-effect="non-scaling-stroke" stroke-linejoin="round" stroke-linecap="round"/>
</g>
<g transform="translate(140,1600) scale(0.125000)">
<path d="M0,40 L30,100 L100,150 L280,170 L290,70 L160,50 L30,40" stroke-width="2.4" vector-effect="non-scaling-stroke" stroke-linejoin="round" stroke-linecap="round"/>
<path d="M290,80 L700,40" stroke-width="2.2" vector-effect="non-scaling-stroke" stroke-linejoin="round" stroke-linecap="round"/>
<path d="M290,110 L740,90" stroke-width="2.2" vector-effect="non-scaling-stroke" stroke-linejoin="round" stroke-linecap="round"/>
<path d="M290,130 L760,130" stroke-width="2.2" vector-effect="non-scaling-stroke" stroke-linejoin="round" stroke-linecap="round"/>
<path d="M290,160 L740,160" stroke-width="2.2" vector-effect="non-scaling-stroke" stroke-linejoin="round" stroke-linecap="round"/>
<path d="M950,30 L980,20 L1200,190 L1220,260 L1280,310 L1280,420 L1200,500 L1130,530 L1070,590 L1040,680 L1020,800" stroke-width="2.0" vector-effect="non-scaling-stroke" stroke-linejoin="round" stroke-linecap="round"/>
<path d="M940,60 L1030,140 L1190,250" stroke-width="1.8" vector-effect="non-scaling-stroke" stroke-linejoin="round" stroke-linecap="round"/>
<path d="M1030,140 L1200,250 L1210,350 L1170,420 L1060,480 L990,560 L950,670" stroke-width="1.8" vector-effect="non-scaling-stroke" stroke-linejoin="round" stroke-linecap="round"/>
<path d="M1160,260 L1170,350" stroke-width="1.6" vector-effect="non-scaling-stroke" stroke-linejoin="round" stroke-linecap="round"/>
<path d="M820,280 L1010,400 L1100,410" stroke-width="1.8" vector-effect="non-scaling-stroke" stroke-linejoin="round" stroke-linecap="round"/>
<path d="M1010,400 L1070,370" stroke-width="1.6" vector-effect="non-scaling-stroke" stroke-linejoin="round" stroke-linecap="round"/>
<path d="M100,150 L90,190 L130,250 L300,450 L400,570 L500,640 L1000,820" stroke-width="2.0" vector-effect="non-scaling-stroke" stroke-linejoin="round" stroke-linecap="round"/>
<path d="M140,290 L30,430 L10,500 L60,550 L150,550" stroke-width="2.0" vector-effect="non-scaling-stroke" stroke-linejoin="round" stroke-linecap="round"/>
<path d="M30,440 L130,520" stroke-width="1.6" vector-effect="non-scaling-stroke" stroke-linejoin="round" stroke-linecap="round"/>
<path d="M160,540 L220,460" stroke-width="1.6" vector-effect="non-scaling-stroke" stroke-linejoin="round" stroke-linecap="round"/>
<path d="M230,600 L300,530" stroke-width="1.6" vector-effect="non-scaling-stroke" stroke-linejoin="round" stroke-linecap="round"/>
<path d="M160,540 L210,600 L220,700" stroke-width="1.8" vector-effect="non-scaling-stroke" stroke-linejoin="round" stroke-linecap="round"/>
<ellipse cx="535" cy="315" rx="40" ry="62" stroke-width="2.0" vector-effect="non-scaling-stroke"/>
<path d="M640,390 L580,440 L470,480 L460,560 L520,620 L1000,820" stroke-width="2.0" vector-effect="non-scaling-stroke" stroke-linejoin="round" stroke-linecap="round"/>
<path d="M500,520 L560,580 L810,770" stroke-width="1.8" vector-effect="non-scaling-stroke" stroke-linejoin="round" stroke-linecap="round"/>
<path d="M660,400 L800,550" stroke-width="1.6" vector-effect="non-scaling-stroke" stroke-linejoin="round" stroke-linecap="round"/>
<path d="M1000,820 L1040,800 L1130,890 L1130,960 L1100,1000 L1060,1040 L990,1080 L950,1090" stroke-width="2.0" vector-effect="non-scaling-stroke" stroke-linejoin="round" stroke-linecap="round"/>
<path d="M100,590 L90,700 L90,840 L130,890 L240,950 L260,1020 L290,1060 L330,1060 L450,1130 L540,1180 L640,1170 L750,1130 L820,1060 L950,1080 L1080,960" stroke-width="2.0" vector-effect="non-scaling-stroke" stroke-linejoin="round" stroke-linecap="round"/>
<path d="M180,720 L250,800 L300,790 L330,760 L380,770 L1080,970" stroke-width="2.0" vector-effect="non-scaling-stroke" stroke-linejoin="round" stroke-linecap="round"/>
<path d="M190,720 L290,770" stroke-width="1.6" vector-effect="non-scaling-stroke" stroke-linejoin="round" stroke-linecap="round"/>
<path d="M200,880 L340,860" stroke-width="1.6" vector-effect="non-scaling-stroke" stroke-linejoin="round" stroke-linecap="round"/>
<path d="M260,900 L320,940" stroke-width="1.6" vector-effect="non-scaling-stroke" stroke-linejoin="round" stroke-linecap="round"/>
<path d="M530,1180 L530,1330 L570,1410 L650,1470 L720,1500 L850,1500 L980,1460 L1090,1390 L1140,1280 L1130,1110 L1120,960" stroke-width="2.0" vector-effect="non-scaling-stroke" stroke-linejoin="round" stroke-linecap="round"/>
<path d="M610,1200 L640,1270 L700,1280 L780,1200 L800,1100" stroke-width="1.8" vector-effect="non-scaling-stroke" stroke-linejoin="round" stroke-linecap="round"/>
<path d="M630,1190 L680,1240 L760,1200" stroke-width="1.6" vector-effect="non-scaling-stroke" stroke-linejoin="round" stroke-linecap="round"/>
<path d="M950,1460 L1050,1440 L1120,1390 L1160,1290 L1160,1130 L1130,1100" stroke-width="2.0" vector-effect="non-scaling-stroke" stroke-linejoin="round" stroke-linecap="round"/>
<path d="M1010,1250 L1060,1050" stroke-width="1.6" vector-effect="non-scaling-stroke" stroke-linejoin="round" stroke-linecap="round"/>
<path d="M720,1470 L940,1360" stroke-width="1.6" vector-effect="non-scaling-stroke" stroke-linejoin="round" stroke-linecap="round"/>
<path d="M810,1070 L870,1050 L960,1080 L910,1110 L830,1110" stroke-width="1.6" vector-effect="non-scaling-stroke" stroke-linejoin="round" stroke-linecap="round"/>
<path d="M150,1450 L240,1450 L440,1140" stroke-width="1.8" vector-effect="non-scaling-stroke" stroke-linejoin="round" stroke-linecap="round"/>
</g>
<g transform="translate(260,1550) scale(0.187500)">
<path d="M0,280 L60,310 L130,350 L165,400 L170,430 L215,480 L215,550 L170,600 L130,620 L80,670 L55,720 L40,800" stroke-width="2.0" vector-effect="non-scaling-stroke" stroke-linejoin="round" stroke-linecap="round"/>
<path d="M0,330 L50,370 L160,430 L160,500 L130,550 L80,590 L30,640 L0,690" stroke-width="2.0" vector-effect="non-scaling-stroke" stroke-linejoin="round" stroke-linecap="round"/>
<path d="M0,500 L40,530 L90,540" stroke-width="1.6" vector-effect="non-scaling-stroke" stroke-linejoin="round" stroke-linecap="round"/>
<path d="M140,440 L130,500" stroke-width="1.6" vector-effect="non-scaling-stroke" stroke-linejoin="round" stroke-linecap="round"/>
<path d="M40,800 L100,860 L110,900 L115,1040" stroke-width="2.0" vector-effect="non-scaling-stroke" stroke-linejoin="round" stroke-linecap="round"/>
<path d="M0,870 L100,910 L60,960 L60,1040" stroke-width="2.0" vector-effect="non-scaling-stroke" stroke-linejoin="round" stroke-linecap="round"/>
</g>
<g transform="translate(260,1735) scale(0.187500)">
<path d="M0,260 L60,240 L100,210 L130,140 L140,60 L120,20 L110,0" stroke-width="2.0" vector-effect="non-scaling-stroke" stroke-linejoin="round" stroke-linecap="round"/>
<path d="M30,110 L70,0" stroke-width="1.8" vector-effect="non-scaling-stroke" stroke-linejoin="round" stroke-linecap="round"/>
<path d="M140,130 L360,230" stroke-width="2.0" vector-effect="non-scaling-stroke" stroke-linejoin="round" stroke-linecap="round"/>
<path d="M100,215 L330,320" stroke-width="2.0" vector-effect="non-scaling-stroke" stroke-linejoin="round" stroke-linecap="round"/>
<path d="M360,230 L420,230 L520,270 L590,270 L680,310 L720,340 L790,360 L830,390 L840,430 L1000,500 L1050,540 L1040,590 L1010,610 L920,590 L850,570 L780,550 L700,555 L650,530 L600,515 L520,480 L460,450 L450,430 L370,380 L330,360 L320,330 Z" stroke-width="2.2" vector-effect="non-scaling-stroke" stroke-linejoin="round" stroke-linecap="round"/>
<path d="M390,240 L420,280 L410,330 L360,345" stroke-width="1.8" vector-effect="non-scaling-stroke" stroke-linejoin="round" stroke-linecap="round"/>
<path d="M410,240 L440,290 L420,340 L370,370" stroke-width="1.8" vector-effect="non-scaling-stroke" stroke-linejoin="round" stroke-linecap="round"/>
<path d="M520,270 L570,320 L580,380 L560,420 L500,440" stroke-width="1.8" vector-effect="non-scaling-stroke" stroke-linejoin="round" stroke-linecap="round"/>
<path d="M560,280 L600,340 L600,420 L550,460 L480,460" stroke-width="1.8" vector-effect="non-scaling-stroke" stroke-linejoin="round" stroke-linecap="round"/>
<path d="M720,340 L740,420 L720,480 L680,500 L650,520" stroke-width="1.8" vector-effect="non-scaling-stroke" stroke-linejoin="round" stroke-linecap="round"/>
<path d="M700,360 L720,440 L690,510" stroke-width="1.8" vector-effect="non-scaling-stroke" stroke-linejoin="round" stroke-linecap="round"/>
<path d="M780,360 L830,390 L840,430 L820,500 L770,550" stroke-width="1.8" vector-effect="non-scaling-stroke" stroke-linejoin="round" stroke-linecap="round"/>
<path d="M760,400 L770,480 L740,540" stroke-width="1.8" vector-effect="non-scaling-stroke" stroke-linejoin="round" stroke-linecap="round"/>
<path d="M840,440 L830,540" stroke-width="1.8" vector-effect="non-scaling-stroke" stroke-linejoin="round" stroke-linecap="round"/>
<path d="M870,450 L860,560" stroke-width="1.8" vector-effect="non-scaling-stroke" stroke-linejoin="round" stroke-linecap="round"/>
<path d="M900,460 L890,570" stroke-width="1.8" vector-effect="non-scaling-stroke" stroke-linejoin="round" stroke-linecap="round"/>
<path d="M930,470 L915,580" stroke-width="1.8" vector-effect="non-scaling-stroke" stroke-linejoin="round" stroke-linecap="round"/>
<path d="M960,480 L945,590" stroke-width="1.8" vector-effect="non-scaling-stroke" stroke-linejoin="round" stroke-linecap="round"/>
<path d="M990,490 L975,600" stroke-width="1.8" vector-effect="non-scaling-stroke" stroke-linejoin="round" stroke-linecap="round"/>
<path d="M1000,540 L1050,530 L1030,600 L1000,610" stroke-width="3.0" vector-effect="non-scaling-stroke" stroke-linejoin="round" stroke-linecap="round"/>
<path d="M1085,460 L1170,395" stroke-width="2.6" vector-effect="non-scaling-stroke" stroke-linejoin="round" stroke-linecap="round"/>
<path d="M1100,500 L1210,465" stroke-width="2.6" vector-effect="non-scaling-stroke" stroke-linejoin="round" stroke-linecap="round"/>
<path d="M1105,555 L1210,565" stroke-width="2.6" vector-effect="non-scaling-stroke" stroke-linejoin="round" stroke-linecap="round"/>
<path d="M1095,610 L1175,665" stroke-width="2.6" vector-effect="non-scaling-stroke" stroke-linejoin="round" stroke-linecap="round"/>
<path d="M1055,650 L1105,740" stroke-width="2.6" vector-effect="non-scaling-stroke" stroke-linejoin="round" stroke-linecap="round"/>
<path d="M1005,670 L1020,765" stroke-width="2.6" vector-effect="non-scaling-stroke" stroke-linejoin="round" stroke-linecap="round"/>
</g>
<g transform="translate(130,1580) scale(0.125000)">
<path d="M740,170 L780,110 L850,120 L960,200 L1000,220 L1010,330 L930,420 L850,400 L790,360 L740,320" stroke-width="2.0" vector-effect="non-scaling-stroke" stroke-linejoin="round" stroke-linecap="round"/>
<path d="M830,370 L910,250" stroke-width="1.8" vector-effect="non-scaling-stroke" stroke-linejoin="round" stroke-linecap="round"/>
<path d="M870,390 L960,260" stroke-width="1.8" vector-effect="non-scaling-stroke" stroke-linejoin="round" stroke-linecap="round"/>
<path d="M850,130 L900,200" stroke-width="1.6" vector-effect="non-scaling-stroke" stroke-linejoin="round" stroke-linecap="round"/>
<path d="M500,340 L530,380 L700,385 L730,420 L730,520 L780,560 L850,540 L860,440" stroke-width="2.0" vector-effect="non-scaling-stroke" stroke-linejoin="round" stroke-linecap="round"/>
</g></g>
</svg>
</div>
</body></html>
